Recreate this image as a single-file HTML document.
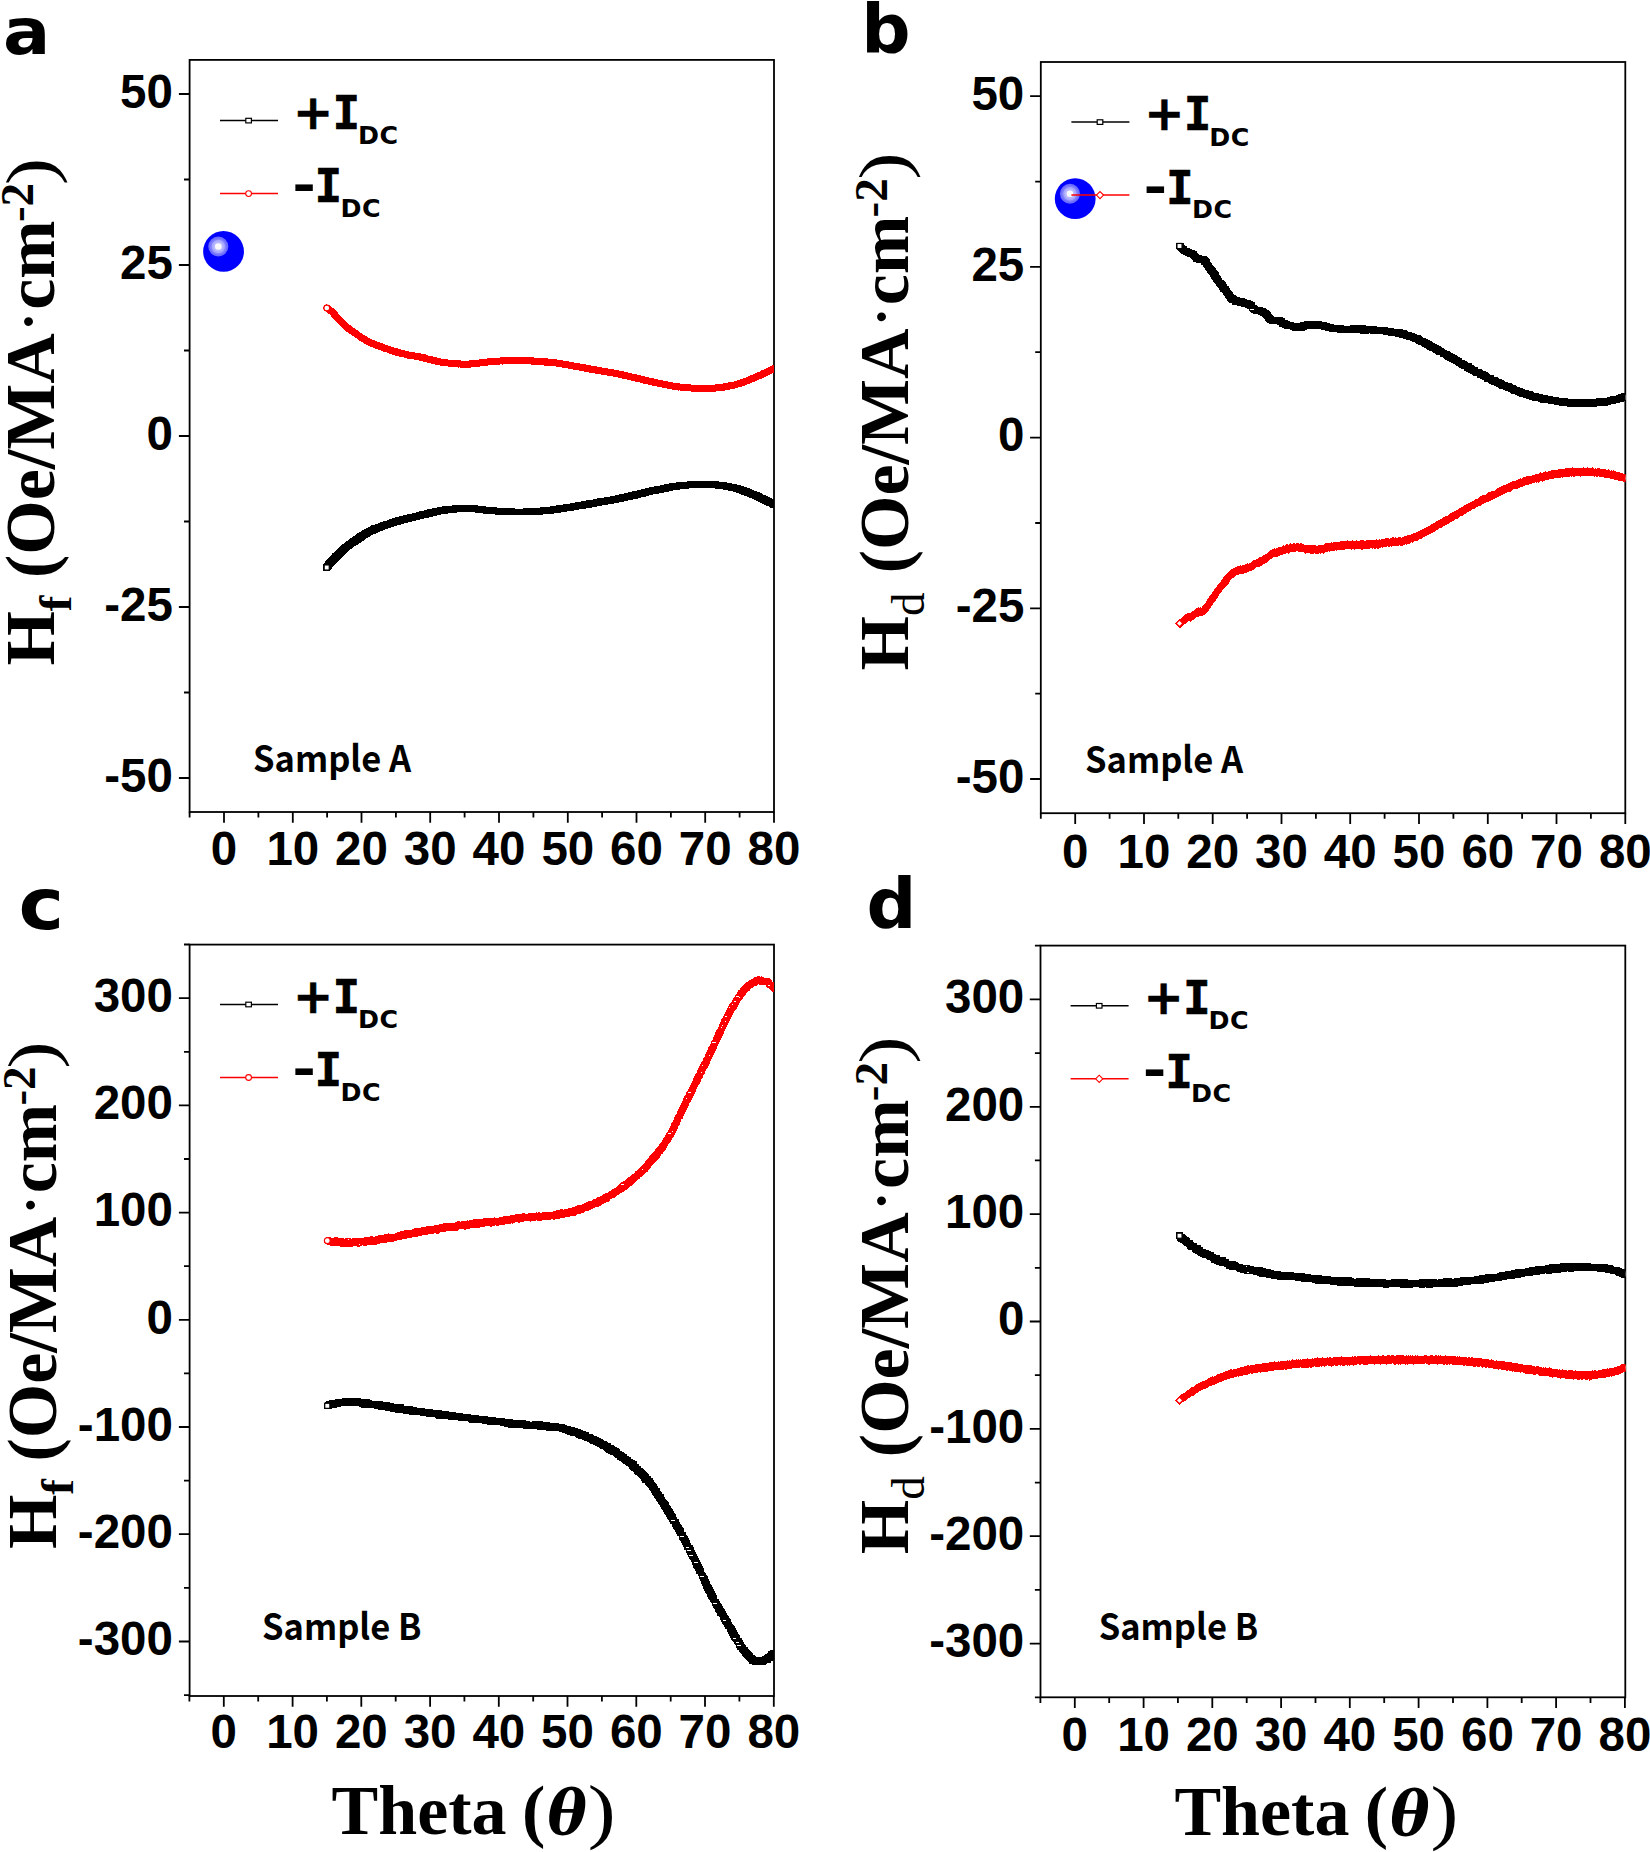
<!DOCTYPE html>
<html lang="en"><head><meta charset="utf-8"><title>Figure: H_f and H_d vs Theta</title>
<style>
html,body{margin:0;padding:0;background:#fff}
svg{display:block}
.tk text,.tk{font-family:"Liberation Sans",sans-serif;font-weight:700;font-size:47.5px;fill:#000}
.pl{font-family:"DejaVu Sans","Liberation Sans",sans-serif;font-weight:700;fill:#000}
.sm{font-family:"Noto Sans CJK SC","DejaVu Sans","Liberation Sans",sans-serif;font-weight:700;font-size:36px;fill:#000}
.lg{font-family:"DejaVu Sans","Liberation Sans",sans-serif;font-weight:700;font-size:46px;fill:#000}
.lgp{font-size:48px;stroke:#000;stroke-width:.6px}
.lgi{font-family:"DejaVu Sans Mono","Liberation Mono",monospace;font-weight:700;font-size:46px;fill:#000;stroke:#000;stroke-width:.7px}
.lgs{font-family:"DejaVu Sans","Liberation Sans",sans-serif;font-weight:700;font-size:25.3px;letter-spacing:.5px;fill:#000}
.yl,.xl{font-family:"Liberation Serif",serif;font-weight:700;font-size:70px;fill:#000}
.sub{font-size:47px}
.sup{font-size:47px}
.dot{font-size:54px}
.yp{font-family:"Liberation Serif",serif;font-weight:400;font-size:67px;fill:#000}
.xp{font-family:"Liberation Serif",serif;font-weight:400;font-size:71px;fill:#000}
.th{font-family:"DejaVu Serif","Liberation Serif",serif;font-weight:700;font-style:italic;font-size:62.2px;fill:#000}
</style></head><body>
<svg width="1650" height="1852" viewBox="0 0 1650 1852">
<rect width="1650" height="1852" fill="#fff"/>
<defs>
<clipPath id="cpa"><rect x="189.6" y="59.9" width="584.4" height="752.1"/></clipPath>
<clipPath id="cpb"><rect x="1040.8" y="62.0" width="584.5" height="751.2"/></clipPath>
<clipPath id="cpc"><rect x="189.6" y="944.6" width="584.4" height="751.4"/></clipPath>
<clipPath id="cpd"><rect x="1040.5" y="945.6" width="584.8" height="751.7"/></clipPath>
<marker id="mS" markerUnits="userSpaceOnUse" markerWidth="10" markerHeight="10" refX="5" refY="5" overflow="visible"><rect x="2.45" y="2.45" width="5.1" height="5.1" fill="#fff" stroke="#000" stroke-width="1.5" shape-rendering="crispEdges"/></marker>
<marker id="mC" markerUnits="userSpaceOnUse" markerWidth="10" markerHeight="10" refX="5" refY="5" overflow="visible"><circle cx="5" cy="5" r="2.85" fill="#fff" stroke="#f00" stroke-width="1.4" shape-rendering="crispEdges"/></marker>
<marker id="mD" markerUnits="userSpaceOnUse" markerWidth="10" markerHeight="10" refX="5" refY="5" overflow="visible"><path d="M1.75 5L5 1.75L8.25 5L5 8.25z" fill="#fff" stroke="#f00" stroke-width="1.5" shape-rendering="crispEdges"/></marker>
</defs>
<text class="pl" font-size="64.6" transform="translate(3.0 54.4) scale(1.086 1)">a</text>
<text class="pl" font-size="66.9" transform="translate(861.2 52.9) scale(1.030 1)">b</text>
<text class="pl" font-size="71.2" transform="translate(18.5 928.7) scale(1.080 1)">c</text>
<text class="pl" font-size="69.3" transform="translate(866.6 928.4) scale(1.005 1)">d</text>
<g id="axes-a">
<rect x="189.6" y="59.9" width="584.4" height="752.1" fill="none" stroke="#000" stroke-width="1.80"/>
<path d="M189.6 812.0v5.6M224.0 812.0v10.7M258.4 812.0v5.6M292.8 812.0v10.7M327.1 812.0v5.6M361.5 812.0v10.7M395.9 812.0v5.6M430.2 812.0v10.7M464.6 812.0v5.6M499.0 812.0v10.7M533.4 812.0v5.6M567.8 812.0v10.7M602.1 812.0v5.6M636.5 812.0v10.7M670.9 812.0v5.6M705.2 812.0v10.7M739.6 812.0v5.6M774.0 812.0v10.7M189.6 94.0h-10.7M189.6 265.0h-10.7M189.6 436.0h-10.7M189.6 607.0h-10.7M189.6 778.0h-10.7M189.6 179.5h-5.6M189.6 350.5h-5.6M189.6 521.5h-5.6M189.6 692.5h-5.6" stroke="#000" stroke-width="1.80" fill="none"/>
<g class="tk" text-anchor="middle">
<text x="224.0" y="865.3">0</text>
<text x="292.8" y="865.3">10</text>
<text x="361.5" y="865.3">20</text>
<text x="430.2" y="865.3">30</text>
<text x="499.0" y="865.3">40</text>
<text x="567.8" y="865.3">50</text>
<text x="636.5" y="865.3">60</text>
<text x="705.2" y="865.3">70</text>
<text x="774.0" y="865.3">80</text>
</g>
<g class="tk" text-anchor="end">
<text x="172.9" y="107.8">50</text>
<text x="172.9" y="278.8">25</text>
<text x="172.9" y="449.8">0</text>
<text x="172.9" y="620.8">-25</text>
<text x="172.9" y="791.8">-50</text>
</g>
</g>
<g id="axes-b">
<rect x="1040.8" y="62.0" width="584.5" height="751.2" fill="none" stroke="#000" stroke-width="1.80"/>
<path d="M1040.8 813.2v5.6M1075.2 813.2v10.7M1109.6 813.2v5.6M1144.0 813.2v10.7M1178.3 813.2v5.6M1212.7 813.2v10.7M1247.1 813.2v5.6M1281.5 813.2v10.7M1315.9 813.2v5.6M1350.2 813.2v10.7M1384.6 813.2v5.6M1419.0 813.2v10.7M1453.4 813.2v5.6M1487.8 813.2v10.7M1522.1 813.2v5.6M1556.5 813.2v10.7M1590.9 813.2v5.6M1625.3 813.2v10.7M1040.8 96.2h-10.7M1040.8 266.9h-10.7M1040.8 437.6h-10.7M1040.8 608.3h-10.7M1040.8 779.0h-10.7M1040.8 181.6h-5.6M1040.8 352.2h-5.6M1040.8 523.0h-5.6M1040.8 693.7h-5.6" stroke="#000" stroke-width="1.80" fill="none"/>
<g class="tk" text-anchor="middle">
<text x="1075.2" y="867.7">0</text>
<text x="1144.0" y="867.7">10</text>
<text x="1212.7" y="867.7">20</text>
<text x="1281.5" y="867.7">30</text>
<text x="1350.2" y="867.7">40</text>
<text x="1419.0" y="867.7">50</text>
<text x="1487.8" y="867.7">60</text>
<text x="1556.5" y="867.7">70</text>
<text x="1625.3" y="867.7">80</text>
</g>
<g class="tk" text-anchor="end">
<text x="1024.3" y="110.0">50</text>
<text x="1024.3" y="280.7">25</text>
<text x="1024.3" y="451.4">0</text>
<text x="1024.3" y="622.1">-25</text>
<text x="1024.3" y="792.8">-50</text>
</g>
</g>
<g id="axes-c">
<rect x="189.6" y="944.6" width="584.4" height="751.4" fill="none" stroke="#000" stroke-width="1.80"/>
<path d="M189.4 1696.0v5.6M223.8 1696.0v10.7M258.2 1696.0v5.6M292.6 1696.0v10.7M326.9 1696.0v5.6M361.3 1696.0v10.7M395.7 1696.0v5.6M430.1 1696.0v10.7M464.4 1696.0v5.6M498.8 1696.0v10.7M533.2 1696.0v5.6M567.5 1696.0v10.7M601.9 1696.0v5.6M636.3 1696.0v10.7M670.7 1696.0v5.6M705.0 1696.0v10.7M739.4 1696.0v5.6M773.8 1696.0v10.7M189.6 998.1h-10.7M189.6 1105.4h-10.7M189.6 1212.6h-10.7M189.6 1319.8h-10.7M189.6 1427.0h-10.7M189.6 1534.2h-10.7M189.6 1641.5h-10.7M189.6 944.5h-5.6M189.6 1051.8h-5.6M189.6 1159.0h-5.6M189.6 1266.2h-5.6M189.6 1373.4h-5.6M189.6 1480.6h-5.6M189.6 1587.8h-5.6M189.6 1695.1h-5.6" stroke="#000" stroke-width="1.80" fill="none"/>
<g class="tk" text-anchor="middle">
<text x="223.8" y="1748.3">0</text>
<text x="292.6" y="1748.3">10</text>
<text x="361.3" y="1748.3">20</text>
<text x="430.1" y="1748.3">30</text>
<text x="498.8" y="1748.3">40</text>
<text x="567.5" y="1748.3">50</text>
<text x="636.3" y="1748.3">60</text>
<text x="705.0" y="1748.3">70</text>
<text x="773.8" y="1748.3">80</text>
</g>
<g class="tk" text-anchor="end">
<text x="172.9" y="1011.9">300</text>
<text x="172.9" y="1119.2">200</text>
<text x="172.9" y="1226.4">100</text>
<text x="172.9" y="1333.6">0</text>
<text x="172.9" y="1440.8">-100</text>
<text x="172.9" y="1548.0">-200</text>
<text x="172.9" y="1655.3">-300</text>
</g>
</g>
<g id="axes-d">
<rect x="1040.5" y="945.6" width="584.8" height="751.7" fill="none" stroke="#000" stroke-width="1.80"/>
<path d="M1040.4 1697.3v5.6M1074.8 1697.3v10.7M1109.2 1697.3v5.6M1143.6 1697.3v10.7M1177.9 1697.3v5.6M1212.3 1697.3v10.7M1246.7 1697.3v5.6M1281.1 1697.3v10.7M1315.5 1697.3v5.6M1349.8 1697.3v10.7M1384.2 1697.3v5.6M1418.6 1697.3v10.7M1453.0 1697.3v5.6M1487.4 1697.3v10.7M1521.7 1697.3v5.6M1556.1 1697.3v10.7M1590.5 1697.3v5.6M1624.9 1697.3v10.7M1040.5 999.4h-10.7M1040.5 1106.8h-10.7M1040.5 1214.1h-10.7M1040.5 1321.5h-10.7M1040.5 1428.9h-10.7M1040.5 1536.2h-10.7M1040.5 1643.6h-10.7M1040.5 945.7h-5.6M1040.5 1053.1h-5.6M1040.5 1160.4h-5.6M1040.5 1267.8h-5.6M1040.5 1375.2h-5.6M1040.5 1482.6h-5.6M1040.5 1589.9h-5.6M1040.5 1697.3h-5.6" stroke="#000" stroke-width="1.80" fill="none"/>
<g class="tk" text-anchor="middle">
<text x="1074.8" y="1750.7">0</text>
<text x="1143.6" y="1750.7">10</text>
<text x="1212.3" y="1750.7">20</text>
<text x="1281.1" y="1750.7">30</text>
<text x="1349.8" y="1750.7">40</text>
<text x="1418.6" y="1750.7">50</text>
<text x="1487.4" y="1750.7">60</text>
<text x="1556.1" y="1750.7">70</text>
<text x="1624.9" y="1750.7">80</text>
</g>
<g class="tk" text-anchor="end">
<text x="1024.3" y="1013.2">300</text>
<text x="1024.3" y="1120.6">200</text>
<text x="1024.3" y="1227.9">100</text>
<text x="1024.3" y="1335.3">0</text>
<text x="1024.3" y="1442.7">-100</text>
<text x="1024.3" y="1550.0">-200</text>
<text x="1024.3" y="1657.4">-300</text>
</g>
</g>
<g clip-path="url(#cpa)"><path d="M774.1,368.2 774.0,368.3 773.4,368.7 772.7,368.9 772.1,369.3 771.5,369.5 770.9,369.9 770.2,370.2 769.6,370.4 769.0,370.8 768.4,371.2 767.7,371.5 767.1,371.9 766.5,372.1 765.9,372.3 765.2,372.7 764.6,372.9 764.0,373.3 763.3,373.6 762.7,373.8 762.1,374.2 761.5,374.6 760.8,374.9 760.2,375.3 759.5,375.5 758.9,375.6 758.3,375.8 757.6,376.3 757.0,376.7 756.4,376.8 755.7,376.9 755.1,377.3 754.4,377.6 753.8,378.0 753.1,378.2 752.5,378.4 751.8,378.7 751.2,379.0 750.5,379.2 749.9,379.6 749.3,379.8 748.6,380.1 748.0,380.2 747.3,380.6 746.7,380.9 746.0,381.1 745.3,381.4 744.7,381.5 744.0,381.8 743.4,382.0 742.7,382.4 742.1,382.7 741.4,382.8 740.7,383.0 740.1,383.2 739.4,383.4 738.7,383.8 738.1,383.9 737.4,384.1 736.7,384.3 736.0,384.4 735.4,384.8 734.7,385.0 734.0,385.0 733.3,385.1 732.7,385.3 732.0,385.4 731.3,385.5 730.6,385.7 729.9,385.8 729.2,386.1 728.5,386.1 727.9,386.2 727.2,386.4 726.5,386.6 725.8,386.8 725.1,386.7 724.4,386.9 723.7,387.0 723.0,387.3 722.3,387.1 721.6,387.3 720.9,387.3 720.2,387.4 719.6,387.6 718.9,387.6 718.2,387.8 717.5,387.7 716.8,387.9 716.1,387.9 715.4,388.1 714.7,388.1 714.0,388.1 713.3,388.2 712.6,388.3 711.9,388.3 711.2,388.4 710.5,388.6 709.8,388.4 709.1,388.5 708.4,388.5 707.7,388.4 707.0,388.5 706.3,388.6 705.6,388.6 704.9,388.5 704.2,388.6 703.5,388.7 702.8,388.5 702.1,388.7 701.4,388.5 700.7,388.5 700.0,388.6 699.3,388.3 698.6,388.5 697.9,388.5 697.2,388.4 696.5,388.3 695.8,388.3 695.1,388.3 694.4,388.4 693.7,388.2 693.0,388.1 692.3,388.1 691.6,388.1 690.9,388.0 690.2,388.0 689.5,387.8 688.8,387.8 688.1,387.9 687.4,387.7 686.7,387.7 686.0,387.7 685.3,387.6 684.6,387.6 683.9,387.5 683.2,387.4 682.5,387.5 681.8,387.2 681.2,387.1 680.5,387.1 679.8,387.0 679.1,386.9 678.4,387.0 677.7,386.7 677.0,386.8 676.3,386.6 675.6,386.4 674.9,386.6 674.2,386.3 673.5,386.2 672.8,386.0 672.1,385.9 671.4,385.9 670.8,385.8 670.1,385.6 669.4,385.3 668.7,385.2 668.0,385.2 667.3,385.0 666.6,384.8 665.9,384.7 665.3,384.6 664.6,384.6 663.9,384.3 663.2,384.1 662.5,384.0 661.8,383.9 661.2,383.7 660.5,383.6 659.8,383.7 659.1,383.4 658.4,383.1 657.7,383.0 657.0,382.9 656.4,382.8 655.7,382.7 655.0,382.4 654.3,382.3 653.6,382.2 652.9,381.9 652.3,381.9 651.6,381.6 650.9,381.5 650.2,381.3 649.5,381.4 648.8,381.0 648.2,381.0 647.5,380.6 646.8,380.6 646.1,380.6 645.4,380.3 644.7,380.1 644.1,380.1 643.4,379.8 642.7,379.6 642.0,379.4 641.3,379.3 640.7,379.0 640.0,379.0 639.3,378.8 638.6,378.8 637.9,378.6 637.2,378.4 636.6,378.3 635.9,378.1 635.2,377.8 634.5,377.7 633.8,377.7 633.2,377.5 632.5,377.1 631.8,377.1 631.1,376.9 630.4,376.8 629.8,376.6 629.1,376.4 628.4,376.4 627.7,376.1 627.0,376.0 626.4,375.7 625.7,375.7 625.0,375.7 624.3,375.3 623.6,375.2 622.9,374.9 622.3,375.0 621.6,374.8 620.9,374.6 620.2,374.4 619.5,374.3 618.8,374.1 618.1,373.9 617.5,373.9 616.8,373.8 616.1,373.7 615.4,373.5 614.7,373.4 614.0,373.1 613.3,373.1 612.6,372.9 611.9,372.9 611.3,372.8 610.6,372.5 609.9,372.4 609.2,372.4 608.5,372.3 607.8,372.2 607.1,371.9 606.4,371.9 605.7,371.8 605.0,371.6 604.4,371.6 603.7,371.5 603.0,371.3 602.3,371.3 601.6,371.1 600.9,370.9 600.2,370.9 599.5,370.9 598.8,370.6 598.2,370.6 597.5,370.3 596.8,370.2 596.1,370.2 595.4,369.8 594.7,369.8 594.0,369.7 593.3,369.6 592.6,369.4 592.0,369.4 591.3,369.2 590.6,369.0 589.9,369.1 589.2,368.9 588.5,368.7 587.8,368.6 587.1,368.5 586.4,368.3 585.8,368.2 585.1,368.0 584.4,368.0 583.7,367.9 583.0,367.8 582.3,367.7 581.6,367.6 580.9,367.5 580.2,367.3 579.6,367.1 578.9,366.9 578.2,366.8 577.5,366.8 576.8,366.6 576.1,366.5 575.4,366.4 574.7,366.2 574.0,366.1 573.4,366.1 572.7,365.9 572.0,365.7 571.3,365.5 570.6,365.3 569.9,365.4 569.2,365.3 568.5,365.1 567.9,365.0 567.2,364.8 566.5,364.6 565.8,364.7 565.1,364.4 564.4,364.2 563.7,364.2 563.0,364.1 562.3,363.9 561.6,363.8 561.0,363.8 560.3,363.5 559.6,363.5 558.9,363.5 558.2,363.3 557.5,363.2 556.8,363.1 556.1,363.0 555.4,362.9 554.7,362.8 554.0,362.8 553.3,362.8 552.6,362.8 551.9,362.6 551.2,362.3 550.5,362.5 549.8,362.4 549.2,362.3 548.5,362.1 547.8,362.2 547.1,362.0 546.4,362.0 545.7,362.1 545.0,361.9 544.3,362.0 543.6,361.8 542.9,361.7 542.2,361.7 541.5,361.6 540.8,361.7 540.1,361.4 539.4,361.5 538.7,361.4 538.0,361.2 537.3,361.4 536.6,361.3 535.9,361.3 535.2,361.1 534.5,361.1 533.8,361.1 533.1,361.0 532.4,361.0 531.7,361.0 531.0,360.9 530.3,360.8 529.6,360.7 528.9,360.8 528.2,360.8 527.5,360.7 526.8,360.8 526.1,360.9 525.4,360.6 524.7,360.6 524.0,360.5 523.3,360.6 522.6,360.8 521.9,360.8 521.2,360.6 520.5,360.5 519.8,360.5 519.1,360.4 518.4,360.5 517.7,360.5 517.0,360.5 516.3,360.5 515.6,360.6 514.9,360.4 514.2,360.7 513.5,360.6 512.8,360.5 512.1,360.4 511.4,360.5 510.7,360.7 510.0,360.7 509.3,360.6 508.6,360.8 507.9,360.6 507.2,360.7 506.5,360.8 505.8,360.6 505.1,360.7 504.4,360.7 503.7,360.7 503.0,360.8 502.3,361.0 501.6,360.9 500.9,360.9 500.2,361.0 499.5,361.1 498.8,361.2 498.1,361.2 497.4,361.2 496.7,361.2 496.0,361.3 495.3,361.2 494.6,361.5 493.9,361.4 493.2,361.4 492.5,361.5 491.8,361.6 491.1,361.7 490.4,361.8 489.8,361.8 489.1,361.9 488.4,361.9 487.7,362.0 487.0,362.1 486.3,362.2 485.6,362.3 484.9,362.2 484.2,362.2 483.5,362.4 482.8,362.5 482.1,362.6 481.4,362.6 480.7,362.7 480.0,362.8 479.3,363.0 478.6,363.1 477.9,363.0 477.2,363.1 476.5,363.2 475.8,363.4 475.1,363.4 474.4,363.5 473.7,363.5 473.0,363.7 472.4,363.7 471.7,363.6 471.0,363.8 470.3,363.8 469.6,364.1 468.9,364.1 468.2,364.1 467.5,364.1 466.8,364.1 466.1,364.2 465.4,364.3 464.7,364.1 464.0,364.3 463.3,364.4 462.6,364.3 461.9,364.3 461.2,364.1 460.5,364.1 459.8,363.9 459.1,363.9 458.4,364.0 457.7,363.9 457.0,363.8 456.3,363.8 455.6,363.6 454.9,363.6 454.2,363.6 453.5,363.4 452.8,363.3 452.1,363.3 451.4,363.3 450.7,363.2 450.0,363.1 449.3,363.1 448.6,363.1 447.9,363.0 447.2,363.0 446.5,362.9 445.8,362.6 445.2,362.5 444.5,362.5 443.8,362.4 443.1,362.3 442.4,362.3 441.7,362.3 441.0,362.1 440.3,362.0 439.6,361.8 438.9,361.6 438.2,361.5 437.5,361.4 436.9,361.2 436.2,361.2 435.5,361.1 434.8,360.7 434.1,360.6 433.5,360.6 432.8,360.4 432.1,360.1 431.4,359.8 430.7,359.9 430.1,359.5 429.4,359.4 428.7,359.1 428.0,359.1 427.4,358.9 426.7,358.8 426.0,358.7 425.3,358.2 424.7,358.2 424.0,357.8 423.3,357.8 422.6,357.7 422.0,357.3 421.3,357.2 420.6,357.1 419.9,357.1 419.2,356.8 418.5,356.7 417.9,356.4 417.2,356.4 416.5,356.3 415.8,356.3 415.1,356.2 414.4,355.9 413.7,355.9 413.0,355.8 412.3,355.9 411.6,355.8 410.9,355.6 410.2,355.4 409.5,355.3 408.9,355.3 408.2,355.0 407.5,354.9 406.8,354.7 406.1,354.5 405.5,354.3 404.8,354.0 404.1,354.0 403.4,353.9 402.7,353.8 402.1,353.6 401.4,353.3 400.7,353.1 400.0,353.1 399.4,352.8 398.7,352.7 398.0,352.4 397.3,352.2 396.7,352.2 396.0,351.8 395.3,351.6 394.7,351.3 394.0,351.3 393.3,351.2 392.7,350.9 392.0,350.4 391.3,350.3 390.7,350.2 390.0,349.9 389.3,349.6 388.7,349.6 388.0,349.3 387.3,349.0 386.7,348.7 386.0,348.4 385.4,348.3 384.7,348.2 384.0,347.9 383.4,347.6 382.7,347.5 382.1,347.1 381.4,346.9 380.8,346.7 380.1,346.4 379.4,346.2 378.8,345.9 378.1,345.7 377.4,345.6 376.8,345.3 376.1,345.2 375.5,345.0 374.8,344.4 374.2,344.3 373.5,344.1 372.9,343.7 372.2,343.6 371.6,343.1 371.0,342.9 370.3,342.7 369.7,342.3 369.1,342.0 368.4,341.7 367.8,341.4 367.2,341.1 366.6,340.8 366.0,340.5 365.3,340.1 364.7,339.7 364.1,339.3 363.5,338.9 362.9,338.6 362.3,338.3 361.7,337.9 361.2,337.5 360.6,337.1 360.0,336.7 359.4,336.4 358.9,335.9 358.3,335.5 357.7,335.0 357.2,334.6 356.6,334.3 356.0,333.9 355.4,333.4 354.9,333.1 354.3,332.6 353.7,332.4 353.1,331.9 352.5,331.6 351.9,331.1 351.3,330.9 350.8,330.3 350.2,330.0 349.7,329.4 349.1,329.1 348.5,328.7 348.0,328.2 347.4,327.8 346.9,327.3 346.4,326.8 345.8,326.5 345.3,326.0 344.8,325.7 344.3,325.1 343.7,324.5 343.2,324.1 342.7,323.5 342.2,323.1 341.7,322.5 341.3,322.2 340.8,321.5 340.3,321.1 339.8,320.7 339.3,320.2 338.8,319.6 338.4,319.1 337.9,318.5 337.4,318.1 337.0,317.5 336.5,316.9 336.1,316.4 335.6,315.9 335.2,315.6 334.7,314.8 334.2,314.3 333.8,313.9 333.3,313.4 332.8,312.8 332.4,312.3 331.8,311.7 331.3,311.2 330.8,310.9 330.2,310.5 329.7,310.0 329.1,309.5 328.5,309.2 328.0,308.9 327.4,308.4 326.8,308.0" fill="none" stroke="none" marker-start="url(#mC)" marker-mid="url(#mC)" marker-end="url(#mC)"/></g>
<circle cx="326.8" cy="308.0" r="2.9" fill="#fff" stroke="#f00" stroke-width="1.15"/>
<g clip-path="url(#cpa)"><path d="M774.1,504.4 773.9,504.6 773.3,504.2 772.6,503.7 772.0,503.6 771.4,503.0 770.8,502.7 770.1,502.6 769.5,502.4 768.9,502.0 768.3,501.7 767.6,501.4 767.0,501.1 766.4,500.7 765.8,500.5 765.1,500.1 764.5,499.8 763.9,499.5 763.2,499.3 762.6,498.7 762.0,498.5 761.4,498.2 760.7,498.1 760.1,497.6 759.5,497.4 758.8,497.1 758.2,496.7 757.5,496.5 756.9,496.3 756.3,495.7 755.6,495.7 755.0,495.3 754.3,495.0 753.7,494.8 753.0,494.5 752.4,494.3 751.7,494.0 751.1,493.7 750.5,493.5 749.8,493.1 749.2,493.0 748.5,492.7 747.9,492.5 747.2,492.3 746.6,491.8 745.9,491.6 745.2,491.3 744.6,491.3 743.9,491.0 743.3,490.7 742.6,490.5 742.0,490.2 741.3,490.1 740.6,489.7 740.0,489.6 739.3,489.3 738.6,489.1 738.0,488.9 737.3,488.7 736.6,488.6 735.9,488.3 735.3,488.1 734.6,487.9 733.9,487.7 733.2,487.7 732.6,487.6 731.9,487.3 731.2,487.2 730.5,486.9 729.8,486.9 729.1,486.8 728.4,486.6 727.8,486.6 727.1,486.3 726.4,486.2 725.7,486.1 725.0,486.0 724.3,485.9 723.6,485.7 722.9,485.8 722.2,485.8 721.5,485.6 720.8,485.4 720.1,485.2 719.5,485.1 718.8,485.1 718.1,485.2 717.4,484.9 716.7,485.0 716.0,484.9 715.3,484.8 714.6,484.7 713.9,484.6 713.2,484.5 712.5,484.6 711.8,484.5 711.1,484.3 710.4,484.3 709.7,484.3 709.0,484.4 708.3,484.1 707.6,484.3 706.9,484.2 706.2,484.2 705.5,484.2 704.8,484.3 704.1,484.3 703.4,484.1 702.7,484.3 702.0,484.3 701.3,484.3 700.6,484.3 699.9,484.2 699.2,484.3 698.5,484.3 697.8,484.6 697.1,484.5 696.4,484.4 695.7,484.6 695.0,484.4 694.3,484.6 693.6,484.7 692.9,484.5 692.2,484.7 691.5,484.8 690.8,484.8 690.1,484.8 689.4,484.9 688.7,485.0 688.0,485.0 687.3,484.9 686.6,485.0 685.9,485.3 685.2,485.1 684.5,485.3 683.8,485.4 683.1,485.4 682.4,485.5 681.7,485.5 681.0,485.7 680.4,485.7 679.7,485.6 679.0,485.8 678.3,485.9 677.6,486.1 676.9,486.1 676.2,486.3 675.5,486.4 674.8,486.4 674.1,486.5 673.4,486.7 672.7,486.8 672.0,486.8 671.3,487.0 670.7,487.1 670.0,487.3 669.3,487.2 668.6,487.5 667.9,487.6 667.2,487.7 666.5,487.9 665.8,488.0 665.2,488.3 664.5,488.4 663.8,488.3 663.1,488.8 662.4,488.9 661.7,489.0 661.0,489.0 660.4,489.3 659.7,489.3 659.0,489.4 658.3,489.6 657.6,489.8 656.9,489.9 656.3,490.1 655.6,490.2 654.9,490.3 654.2,490.4 653.5,490.6 652.8,490.7 652.1,490.9 651.5,491.1 650.8,491.1 650.1,491.3 649.4,491.6 648.7,491.8 648.1,491.9 647.4,491.9 646.7,492.0 646.0,492.3 645.3,492.6 644.6,492.7 644.0,492.9 643.3,492.9 642.6,493.2 641.9,493.3 641.2,493.4 640.6,493.5 639.9,493.9 639.2,493.9 638.5,494.0 637.8,494.3 637.1,494.6 636.5,494.6 635.8,494.7 635.1,494.9 634.4,495.2 633.7,495.2 633.1,495.3 632.4,495.4 631.7,495.8 631.0,495.9 630.3,496.0 629.7,496.2 629.0,496.4 628.3,496.6 627.6,496.7 626.9,496.8 626.3,496.9 625.6,497.1 624.9,497.5 624.2,497.5 623.5,497.6 622.8,497.8 622.2,498.0 621.5,498.0 620.8,498.3 620.1,498.4 619.4,498.6 618.7,498.5 618.0,498.6 617.4,499.0 616.7,499.0 616.0,499.3 615.3,499.4 614.6,499.5 613.9,499.6 613.2,499.7 612.5,499.9 611.8,500.0 611.2,500.0 610.5,500.2 609.8,500.3 609.1,500.3 608.4,500.6 607.7,500.6 607.0,500.8 606.3,501.0 605.6,500.9 604.9,501.0 604.3,501.4 603.6,501.4 602.9,501.5 602.2,501.5 601.5,501.7 600.8,501.8 600.1,501.9 599.4,502.0 598.7,502.2 598.1,502.4 597.4,502.5 596.7,502.5 596.0,502.7 595.3,502.9 594.6,502.9 593.9,503.1 593.2,503.3 592.5,503.3 591.9,503.6 591.2,503.6 590.5,503.7 589.8,503.8 589.1,503.9 588.4,504.2 587.7,504.2 587.0,504.5 586.3,504.5 585.7,504.7 585.0,504.8 584.3,504.8 583.6,505.1 582.9,505.2 582.2,505.2 581.5,505.3 580.8,505.4 580.1,505.6 579.5,505.7 578.8,505.9 578.1,505.8 577.4,506.1 576.7,506.1 576.0,506.2 575.3,506.4 574.6,506.6 573.9,506.6 573.2,506.8 572.5,506.9 571.9,507.0 571.2,507.1 570.5,507.2 569.8,507.2 569.1,507.4 568.4,507.6 567.7,507.7 567.0,507.7 566.3,507.8 565.6,507.9 564.9,508.0 564.3,508.1 563.6,508.2 562.9,508.3 562.2,508.6 561.5,508.7 560.8,508.8 560.1,508.8 559.4,508.8 558.7,509.1 558.0,509.2 557.3,509.3 556.6,509.4 555.9,509.3 555.2,509.5 554.6,509.6 553.9,509.6 553.2,509.7 552.5,509.9 551.8,509.9 551.1,509.9 550.4,510.3 549.7,510.3 549.0,510.2 548.3,510.2 547.6,510.5 546.9,510.5 546.2,510.4 545.5,510.6 544.8,510.7 544.1,510.7 543.4,510.7 542.7,511.0 542.0,510.9 541.3,511.0 540.6,511.1 539.9,511.1 539.2,511.3 538.5,511.1 537.8,511.1 537.1,511.4 536.4,511.4 535.7,511.4 535.0,511.4 534.4,511.4 533.7,511.6 533.0,511.6 532.3,511.6 531.6,511.9 530.9,511.7 530.2,511.7 529.5,511.8 528.8,511.8 528.1,512.0 527.4,511.7 526.7,511.7 526.0,512.0 525.3,512.0 524.6,511.9 523.9,512.0 523.2,512.0 522.5,512.0 521.8,512.0 521.1,512.0 520.4,512.0 519.7,512.0 519.0,511.9 518.3,511.9 517.6,512.0 516.9,511.9 516.2,511.9 515.5,512.1 514.8,511.9 514.1,512.0 513.4,511.9 512.7,512.0 512.0,511.8 511.3,511.8 510.6,511.9 509.9,511.7 509.2,511.7 508.5,511.7 507.8,511.7 507.1,511.6 506.4,511.6 505.7,511.7 505.0,511.6 504.3,511.5 503.6,511.5 502.9,511.4 502.2,511.5 501.5,511.5 500.8,511.3 500.1,511.4 499.4,511.3 498.7,511.2 498.0,511.2 497.3,511.0 496.6,511.1 495.9,511.0 495.2,510.9 494.5,510.9 493.8,510.8 493.1,510.8 492.4,510.8 491.7,510.6 491.0,510.4 490.3,510.6 489.6,510.4 488.9,510.3 488.2,510.4 487.5,510.1 486.8,510.0 486.1,510.2 485.4,510.1 484.7,510.1 484.0,509.9 483.3,509.9 482.6,509.8 482.0,509.7 481.3,509.5 480.6,509.5 479.9,509.5 479.2,509.3 478.5,509.3 477.8,509.1 477.1,509.1 476.4,509.0 475.7,508.9 475.0,508.9 474.3,508.7 473.6,508.8 472.9,508.8 472.2,508.7 471.5,508.5 470.8,508.6 470.1,508.6 469.4,508.3 468.7,508.3 468.0,508.4 467.3,508.2 466.6,508.3 465.9,508.2 465.2,508.2 464.5,508.3 463.8,508.2 463.1,508.2 462.4,508.2 461.7,508.3 461.0,508.3 460.3,508.3 459.6,508.5 458.9,508.5 458.2,508.6 457.5,508.7 456.8,508.8 456.2,508.7 455.5,508.8 454.8,508.9 454.1,509.0 453.4,509.2 452.7,509.2 452.0,509.1 451.3,509.4 450.6,509.5 449.9,509.5 449.2,509.4 448.5,509.5 447.8,509.8 447.1,509.8 446.4,509.9 445.7,509.8 445.0,510.2 444.3,510.2 443.6,510.3 442.9,510.4 442.2,510.5 441.6,510.5 440.9,510.7 440.2,510.8 439.5,511.0 438.8,511.0 438.1,511.1 437.4,511.2 436.7,511.4 436.1,511.5 435.4,511.7 434.7,512.0 434.0,512.0 433.3,512.2 432.6,512.2 432.0,512.5 431.3,512.8 430.6,512.8 429.9,513.0 429.2,513.2 428.6,513.4 427.9,513.5 427.2,513.8 426.5,513.9 425.8,514.0 425.2,514.2 424.5,514.5 423.8,514.6 423.1,514.7 422.5,514.8 421.8,515.0 421.1,515.4 420.4,515.5 419.7,515.5 419.1,515.8 418.4,515.9 417.7,516.0 417.0,516.1 416.3,516.3 415.7,516.7 415.0,516.6 414.3,517.0 413.6,517.1 412.9,517.3 412.3,517.3 411.6,517.5 410.9,517.8 410.2,517.8 409.5,517.9 408.8,518.2 408.2,518.3 407.5,518.4 406.8,518.6 406.1,518.9 405.5,518.9 404.8,519.4 404.1,519.3 403.4,519.5 402.7,519.8 402.1,519.7 401.4,520.1 400.7,520.2 400.0,520.6 399.4,520.8 398.7,520.7 398.0,521.0 397.3,521.3 396.7,521.4 396.0,521.5 395.3,521.8 394.6,522.0 394.0,522.1 393.3,522.6 392.6,522.6 392.0,523.0 391.3,523.0 390.7,523.3 390.0,523.6 389.3,523.9 388.7,524.0 388.0,524.3 387.4,524.4 386.7,524.8 386.0,524.9 385.4,525.1 384.7,525.4 384.0,525.7 383.4,525.8 382.7,526.1 382.1,526.3 381.4,526.5 380.7,526.9 380.1,527.0 379.4,527.3 378.8,527.5 378.1,527.7 377.4,527.9 376.8,528.2 376.1,528.4 375.5,528.7 374.8,528.8 374.2,529.2 373.6,529.6 372.9,529.8 372.3,530.3 371.7,530.5 371.0,530.8 370.4,530.9 369.8,531.4 369.2,531.6 368.6,532.1 368.0,532.4 367.3,532.8 366.7,533.2 366.1,533.5 365.5,533.7 364.9,534.2 364.3,534.6 363.7,535.0 363.1,535.3 362.5,535.7 362.0,536.1 361.4,536.5 360.8,536.7 360.2,537.2 359.6,537.6 359.1,538.0 358.5,538.3 357.9,538.8 357.3,539.3 356.8,539.5 356.2,540.0 355.6,540.4 355.0,540.7 354.5,541.2 353.9,541.6 353.3,541.8 352.7,542.3 352.2,542.8 351.6,543.1 351.0,543.6 350.5,544.1 349.9,544.2 349.3,544.8 348.7,545.2 348.2,545.6 347.6,545.9 347.0,546.3 346.5,546.9 345.9,547.2 345.3,547.8 344.8,548.2 344.3,548.5 343.7,549.0 343.2,549.4 342.7,549.9 342.2,550.5 341.7,551.0 341.2,551.5 340.7,552.0 340.2,552.4 339.7,553.1 339.3,553.4 338.8,553.9 338.3,554.5 337.8,555.1 337.3,555.4 336.8,555.9 336.2,556.4 335.7,556.8 335.2,557.4 334.7,557.9 334.2,558.3 333.7,558.9 333.2,559.4 332.7,559.9 332.3,560.4 331.8,560.9 331.4,561.3 330.9,561.8 330.5,562.4 330.1,563.0 329.6,563.7 329.2,564.1 328.8,564.7 328.4,565.3 328.0,565.8 327.5,566.4 327.1,567.0 326.7,567.5" fill="none" stroke="none" marker-start="url(#mS)" marker-mid="url(#mS)" marker-end="url(#mS)"/></g>
<rect x="324.15" y="564.95" width="5.1" height="5.1" fill="#fff" stroke="#000" stroke-width="1.2"/>
<g clip-path="url(#cpb)"><path d="M1625.3,397.5 1624.6,396.6 1623.9,397.7 1623.2,397.4 1622.6,397.5 1621.9,397.9 1621.2,397.6 1620.5,398.6 1619.8,398.8 1619.2,398.0 1618.5,399.0 1617.8,398.9 1617.1,398.9 1616.4,399.5 1615.8,399.2 1615.1,399.6 1614.4,399.6 1613.7,399.7 1613.0,399.5 1612.4,400.7 1611.7,400.2 1611.0,400.1 1610.3,400.5 1609.6,400.9 1608.9,401.0 1608.2,401.1 1607.6,401.5 1606.9,401.5 1606.2,401.5 1605.5,401.9 1604.8,402.3 1604.1,401.7 1603.4,401.4 1602.7,401.5 1602.0,402.0 1601.3,402.5 1600.6,402.5 1599.9,402.6 1599.3,401.7 1598.6,402.3 1597.9,402.4 1597.2,402.4 1596.5,402.7 1595.8,403.1 1595.1,402.2 1594.4,402.7 1593.7,403.2 1593.0,403.3 1592.3,403.5 1591.6,402.7 1590.9,402.8 1590.2,403.1 1589.5,403.6 1588.8,403.1 1588.1,403.6 1587.4,403.7 1586.7,403.5 1586.0,403.9 1585.3,403.5 1584.6,402.7 1583.9,403.4 1583.2,403.5 1582.5,403.5 1581.8,403.2 1581.1,403.5 1580.4,403.3 1579.7,403.6 1579.0,402.8 1578.3,403.2 1577.6,403.8 1576.9,402.8 1576.2,403.1 1575.5,403.1 1574.8,403.6 1574.1,402.7 1573.4,403.6 1572.7,402.3 1572.0,403.2 1571.3,402.5 1570.6,402.4 1569.9,403.5 1569.2,402.7 1568.5,402.5 1567.8,402.4 1567.1,402.9 1566.4,402.7 1565.7,403.1 1565.0,401.6 1564.3,402.3 1563.6,402.5 1562.9,401.9 1562.2,402.2 1561.5,401.1 1560.9,401.4 1560.2,401.2 1559.5,401.4 1558.8,401.4 1558.1,401.6 1557.4,402.1 1556.7,400.9 1556.0,400.8 1555.3,400.9 1554.6,400.5 1553.9,400.2 1553.2,400.9 1552.6,400.4 1551.9,400.0 1551.2,400.3 1550.5,399.9 1549.8,399.8 1549.1,399.7 1548.4,399.7 1547.7,399.4 1547.1,399.7 1546.4,399.4 1545.7,399.5 1545.0,399.2 1544.3,398.7 1543.6,399.5 1543.0,398.9 1542.3,398.7 1541.6,398.1 1540.9,398.5 1540.2,398.1 1539.6,397.6 1538.9,397.2 1538.2,397.1 1537.5,396.9 1536.8,397.3 1536.2,396.4 1535.5,397.2 1534.8,396.0 1534.1,396.4 1533.5,395.9 1532.8,396.3 1532.1,396.2 1531.4,395.9 1530.8,395.6 1530.1,394.6 1529.4,395.2 1528.7,395.0 1528.1,395.0 1527.4,394.6 1526.7,394.6 1526.1,394.5 1525.4,393.3 1524.7,393.2 1524.0,393.2 1523.4,393.5 1522.7,393.2 1522.1,392.3 1521.4,392.5 1520.7,392.2 1520.1,392.7 1519.4,391.8 1518.8,391.8 1518.1,391.3 1517.4,390.9 1516.8,390.5 1516.1,391.1 1515.5,390.5 1514.8,390.5 1514.2,390.4 1513.5,389.1 1512.9,390.1 1512.3,388.7 1511.6,388.8 1511.0,388.8 1510.3,388.1 1509.7,387.4 1509.0,387.3 1508.4,386.7 1507.8,387.2 1507.1,387.0 1506.5,387.0 1505.8,386.3 1505.2,385.9 1504.5,385.5 1503.9,386.0 1503.3,385.3 1502.6,385.2 1502.0,384.0 1501.4,384.2 1500.7,383.8 1500.1,383.8 1499.5,383.4 1498.8,382.5 1498.2,382.2 1497.6,382.7 1496.9,382.3 1496.3,382.0 1495.7,381.6 1495.0,381.6 1494.4,380.8 1493.8,381.2 1493.1,380.7 1492.5,380.3 1491.9,380.1 1491.2,379.2 1490.6,378.7 1490.0,378.9 1489.4,378.2 1488.7,378.3 1488.1,378.4 1487.5,378.2 1486.9,377.4 1486.2,377.1 1485.6,376.2 1485.0,375.8 1484.4,376.0 1483.7,375.9 1483.1,375.1 1482.5,374.6 1481.9,374.3 1481.3,374.3 1480.6,374.4 1480.0,373.9 1479.4,373.0 1478.8,372.6 1478.2,372.7 1477.5,372.4 1476.9,372.1 1476.3,372.3 1475.7,372.0 1475.1,370.7 1474.4,370.6 1473.8,370.5 1473.2,370.2 1472.6,370.0 1472.0,369.3 1471.4,369.6 1470.8,368.5 1470.1,369.0 1469.5,368.2 1468.9,367.8 1468.3,366.8 1467.7,367.3 1467.1,366.8 1466.5,366.1 1465.9,365.9 1465.2,365.5 1464.6,365.5 1464.0,364.9 1463.4,364.6 1462.8,364.5 1462.2,364.3 1461.6,363.0 1461.0,363.8 1460.4,362.9 1459.7,362.9 1459.1,361.6 1458.5,362.1 1457.9,361.8 1457.3,361.0 1456.7,360.4 1456.1,361.0 1455.5,359.9 1454.9,359.4 1454.3,359.8 1453.7,358.7 1453.1,358.8 1452.5,358.0 1451.9,358.6 1451.3,357.3 1450.6,357.4 1450.0,356.9 1449.4,356.0 1448.8,356.3 1448.2,356.3 1447.6,355.8 1447.0,354.7 1446.4,354.1 1445.8,354.2 1445.2,354.0 1444.6,353.9 1444.0,353.5 1443.4,353.2 1442.8,353.2 1442.1,351.9 1441.5,352.1 1440.9,351.5 1440.3,350.9 1439.7,351.3 1439.1,351.5 1438.5,350.3 1437.9,349.7 1437.3,349.8 1436.7,349.1 1436.1,349.2 1435.4,348.4 1434.8,348.1 1434.2,347.9 1433.6,347.1 1433.0,347.5 1432.4,347.3 1431.8,346.2 1431.2,346.5 1430.6,346.2 1429.9,345.4 1429.3,345.7 1428.7,344.8 1428.1,345.1 1427.5,344.5 1426.9,344.0 1426.3,343.7 1425.7,343.8 1425.0,343.2 1424.4,342.2 1423.8,342.4 1423.2,342.0 1422.6,341.3 1421.9,341.5 1421.3,341.5 1420.7,340.9 1420.0,340.6 1419.4,340.5 1418.8,339.6 1418.1,339.8 1417.5,338.7 1416.8,339.1 1416.2,338.7 1415.6,338.9 1414.9,338.0 1414.3,338.1 1413.6,337.5 1413.0,337.8 1412.3,337.0 1411.7,336.8 1411.0,336.3 1410.3,335.9 1409.7,336.6 1409.0,335.7 1408.3,335.7 1407.7,335.6 1407.0,335.0 1406.3,336.0 1405.7,334.9 1405.0,335.1 1404.3,334.4 1403.6,333.6 1403.0,333.4 1402.3,334.2 1401.6,333.6 1400.9,333.6 1400.2,332.8 1399.6,333.7 1398.9,334.0 1398.2,333.6 1397.5,332.6 1396.8,332.8 1396.1,332.6 1395.4,332.5 1394.7,333.0 1394.0,332.2 1393.3,332.5 1392.7,332.3 1392.0,332.5 1391.3,332.6 1390.6,331.4 1389.9,331.7 1389.2,332.0 1388.5,331.1 1387.8,331.2 1387.1,331.7 1386.4,331.3 1385.8,331.2 1385.1,330.4 1384.4,330.6 1383.7,330.8 1383.0,331.1 1382.3,330.7 1381.6,330.5 1380.9,330.2 1380.2,330.2 1379.5,330.5 1378.8,330.7 1378.1,330.1 1377.4,330.3 1376.7,330.7 1376.0,330.0 1375.3,330.5 1374.6,330.1 1373.9,329.8 1373.2,330.2 1372.5,329.7 1371.8,329.7 1371.1,329.5 1370.4,330.1 1369.7,330.0 1369.0,329.9 1368.3,329.1 1367.6,329.7 1366.9,330.1 1366.2,330.4 1365.5,329.7 1364.8,330.1 1364.1,329.2 1363.4,330.2 1362.7,328.8 1362.0,329.6 1361.3,329.3 1360.6,329.1 1359.9,329.7 1359.2,329.5 1358.5,329.3 1357.8,329.2 1357.1,328.6 1356.4,329.4 1355.7,329.4 1355.0,329.1 1354.3,329.5 1353.6,328.5 1352.9,329.5 1352.2,329.6 1351.5,329.3 1350.8,329.8 1350.1,329.0 1349.4,329.2 1348.7,329.4 1348.0,329.8 1347.3,329.4 1346.6,329.8 1345.9,329.1 1345.2,329.9 1344.5,329.4 1343.8,330.0 1343.1,330.1 1342.4,329.6 1341.7,329.3 1341.0,328.8 1340.3,329.2 1339.7,328.9 1339.0,329.0 1338.3,328.2 1337.6,328.5 1336.9,329.0 1336.2,328.8 1335.5,328.3 1334.8,328.8 1334.1,328.4 1333.4,328.7 1332.7,328.5 1332.0,328.8 1331.3,327.9 1330.6,327.8 1329.9,328.1 1329.2,327.4 1328.5,327.4 1327.9,327.8 1327.2,326.8 1326.6,326.6 1325.9,326.5 1325.3,326.8 1324.7,326.7 1324.0,325.3 1323.3,325.4 1322.7,326.1 1322.0,324.9 1321.3,325.0 1320.6,324.9 1319.9,325.1 1319.2,324.8 1318.5,325.3 1317.8,324.9 1317.1,325.0 1316.4,325.0 1315.7,324.2 1315.0,325.4 1314.3,325.3 1313.6,324.6 1312.9,325.8 1312.2,325.0 1311.5,324.5 1310.8,324.8 1310.1,324.4 1309.4,324.7 1308.7,324.6 1308.0,324.7 1307.3,324.8 1306.6,325.8 1305.9,325.5 1305.2,325.1 1304.6,326.1 1303.9,326.6 1303.3,325.8 1302.7,326.1 1302.0,327.3 1301.3,326.8 1300.6,327.3 1299.9,327.0 1299.2,326.7 1298.5,327.5 1297.8,327.9 1297.1,327.2 1296.4,327.3 1295.7,327.5 1295.0,327.1 1294.4,326.6 1293.7,326.7 1293.0,326.2 1292.3,326.1 1291.6,326.0 1290.9,326.0 1290.3,325.8 1289.6,325.2 1288.9,325.5 1288.3,325.6 1287.6,325.7 1287.0,324.8 1286.3,324.6 1285.7,325.1 1285.0,323.3 1284.4,323.5 1283.8,323.6 1283.2,323.2 1282.6,323.2 1282.0,322.1 1281.4,321.3 1280.7,322.1 1280.1,321.0 1279.4,320.1 1278.8,320.7 1278.1,320.4 1277.4,320.2 1276.7,320.6 1276.0,320.8 1275.3,320.7 1274.6,320.2 1273.9,320.5 1273.2,320.9 1272.5,320.7 1271.9,320.0 1271.2,320.0 1270.7,319.4 1270.2,319.6 1269.7,318.5 1269.2,318.6 1268.8,317.7 1268.3,317.2 1267.9,317.0 1267.4,315.8 1266.9,315.8 1266.5,314.1 1265.9,314.5 1265.4,313.1 1264.8,313.3 1264.3,313.0 1263.7,312.5 1263.1,312.7 1262.5,311.4 1261.9,311.8 1261.3,311.4 1260.7,310.9 1260.0,310.3 1259.4,310.3 1258.7,309.9 1258.0,310.0 1257.3,309.9 1256.6,310.6 1255.9,310.4 1255.2,309.7 1254.6,309.8 1254.0,309.2 1253.4,308.8 1252.9,308.0 1252.4,307.9 1251.9,307.8 1251.4,305.8 1250.9,306.0 1250.4,305.4 1249.9,304.6 1249.3,304.4 1248.7,304.6 1248.0,304.8 1247.4,303.1 1246.7,303.4 1246.0,303.6 1245.3,303.5 1244.7,303.2 1244.0,302.7 1243.3,302.6 1242.6,302.9 1242.0,302.7 1241.3,301.8 1240.6,301.7 1239.9,302.4 1239.3,301.1 1238.6,302.0 1237.9,301.4 1237.3,301.5 1236.6,300.8 1235.9,300.0 1235.3,301.3 1234.7,300.1 1234.1,299.3 1233.4,299.4 1232.9,298.3 1232.3,299.6 1231.7,298.4 1231.2,298.1 1230.7,297.4 1230.2,296.5 1229.8,296.5 1229.4,295.6 1229.0,295.0 1228.6,294.6 1228.2,293.4 1227.8,293.4 1227.4,293.1 1227.0,292.8 1226.7,291.4 1226.3,291.2 1225.9,290.6 1225.5,289.6 1225.0,288.9 1224.6,289.1 1224.2,288.0 1223.7,288.2 1223.3,287.8 1222.8,285.6 1222.4,285.4 1221.9,286.3 1221.5,284.4 1221.0,284.1 1220.6,283.5 1220.2,283.4 1219.8,283.1 1219.3,282.9 1218.9,281.8 1218.5,281.0 1218.1,280.9 1217.7,279.6 1217.4,280.1 1217.0,278.2 1216.6,278.4 1216.2,277.6 1215.8,276.8 1215.4,275.8 1215.1,276.3 1214.7,275.3 1214.3,274.4 1213.9,273.4 1213.5,273.5 1213.1,272.4 1212.7,271.4 1212.3,271.5 1211.9,271.2 1211.5,270.8 1211.1,270.0 1210.7,269.9 1210.3,269.0 1209.9,267.9 1209.5,267.9 1209.1,266.8 1208.6,266.2 1208.2,266.8 1207.8,265.2 1207.5,265.0 1207.1,264.6 1206.7,264.0 1206.3,262.8 1205.9,261.9 1205.5,261.3 1205.1,261.4 1204.6,260.7 1204.2,261.2 1203.6,259.6 1203.0,259.6 1202.4,259.0 1201.7,259.3 1201.0,259.1 1200.3,259.0 1199.6,259.4 1198.9,258.6 1198.3,258.8 1197.6,257.9 1197.0,258.7 1196.5,258.3 1195.9,257.8 1195.4,257.1 1195.0,256.0 1194.5,256.0 1194.0,255.1 1193.5,254.4 1193.0,254.3 1192.4,254.1 1191.9,252.9 1191.2,253.4 1190.6,252.8 1189.9,253.3 1189.2,252.6 1188.5,252.4 1187.8,251.9 1187.2,252.1 1186.5,251.7 1185.9,251.3 1185.3,251.1 1184.7,251.0 1184.2,250.2 1183.7,249.4 1183.1,248.8 1182.6,249.0 1182.1,249.1 1181.6,248.0 1181.1,247.1 1180.5,246.6 1180.0,247.0 1179.5,246.0" fill="none" stroke="none" marker-start="url(#mS)" marker-mid="url(#mS)" marker-end="url(#mS)"/></g>
<rect x="1176.95" y="243.45" width="5.1" height="5.1" fill="#fff" stroke="#000" stroke-width="1.2"/>
<g clip-path="url(#cpb)"><path d="M1625.3,478.4 1624.9,477.8 1624.2,478.1 1623.5,478.2 1622.9,477.4 1622.2,477.5 1621.5,477.0 1620.8,476.7 1620.1,476.8 1619.5,476.7 1618.8,476.2 1618.1,476.6 1617.4,475.8 1616.7,475.9 1616.1,475.9 1615.4,475.5 1614.7,475.5 1614.0,475.6 1613.3,474.4 1612.7,475.3 1612.0,474.5 1611.3,474.4 1610.6,475.0 1609.9,474.3 1609.2,474.3 1608.6,473.6 1607.9,474.0 1607.2,473.6 1606.5,473.9 1605.8,473.5 1605.1,473.8 1604.4,473.0 1603.7,473.3 1603.0,473.4 1602.3,473.2 1601.6,472.9 1600.9,472.9 1600.3,473.1 1599.6,472.0 1598.9,472.5 1598.2,472.1 1597.5,472.1 1596.8,473.0 1596.1,472.6 1595.4,472.2 1594.7,472.9 1594.0,472.7 1593.3,471.9 1592.6,471.5 1591.9,471.9 1591.2,471.6 1590.5,472.1 1589.8,472.3 1589.1,472.3 1588.4,472.2 1587.7,471.6 1587.0,471.6 1586.3,472.3 1585.6,472.0 1584.9,471.7 1584.2,471.6 1583.5,471.2 1582.8,471.6 1582.1,471.5 1581.4,471.8 1580.7,472.6 1580.0,471.6 1579.3,472.2 1578.6,472.0 1577.9,472.3 1577.2,472.1 1576.5,472.0 1575.8,471.7 1575.1,471.6 1574.4,472.4 1573.7,472.5 1573.0,472.2 1572.3,471.6 1571.6,472.4 1570.9,472.3 1570.2,472.0 1569.5,472.5 1568.8,472.6 1568.1,472.0 1567.4,472.6 1566.7,472.5 1566.0,472.6 1565.3,472.2 1564.6,473.2 1563.9,473.2 1563.2,472.8 1562.6,473.6 1561.9,472.8 1561.2,472.9 1560.5,473.9 1559.8,473.3 1559.1,473.8 1558.4,473.6 1557.7,474.0 1557.0,473.6 1556.3,474.3 1555.6,474.2 1554.9,474.1 1554.2,474.0 1553.5,474.7 1552.9,473.9 1552.2,474.9 1551.5,474.8 1550.8,475.4 1550.1,475.1 1549.4,475.0 1548.7,474.8 1548.0,475.9 1547.4,475.8 1546.7,475.7 1546.0,476.6 1545.3,475.3 1544.6,476.2 1543.9,477.2 1543.3,476.1 1542.6,477.4 1541.9,476.6 1541.2,477.0 1540.5,476.5 1539.9,477.5 1539.2,477.7 1538.5,478.2 1537.8,478.3 1537.1,477.6 1536.5,478.2 1535.8,477.6 1535.1,478.5 1534.4,478.9 1533.8,479.1 1533.1,479.1 1532.4,479.2 1531.7,479.8 1531.1,479.8 1530.4,480.0 1529.7,480.3 1529.0,480.5 1528.4,480.1 1527.7,481.1 1527.0,480.3 1526.3,480.8 1525.7,481.1 1525.0,481.3 1524.3,481.7 1523.7,481.3 1523.0,482.1 1522.3,482.4 1521.7,483.1 1521.0,482.6 1520.4,482.7 1519.7,483.1 1519.0,484.0 1518.4,483.4 1517.7,484.5 1517.1,483.8 1516.4,484.5 1515.8,485.0 1515.1,484.7 1514.5,485.0 1513.8,485.1 1513.2,485.5 1512.5,485.2 1511.9,486.2 1511.3,486.0 1510.6,486.6 1510.0,487.8 1509.3,487.5 1508.7,487.1 1508.0,488.3 1507.4,488.0 1506.8,488.4 1506.1,488.9 1505.5,489.1 1504.8,488.9 1504.2,490.2 1503.6,489.5 1502.9,490.3 1502.3,490.4 1501.6,490.6 1501.0,491.2 1500.4,491.5 1499.7,490.9 1499.1,491.4 1498.5,492.3 1497.8,492.9 1497.2,492.4 1496.6,493.1 1495.9,494.2 1495.3,494.1 1494.7,494.7 1494.0,494.4 1493.4,495.0 1492.8,495.7 1492.2,495.2 1491.5,495.8 1490.9,495.8 1490.3,496.5 1489.6,496.4 1489.0,496.3 1488.4,497.6 1487.8,498.0 1487.1,497.7 1486.5,498.0 1485.9,498.5 1485.3,498.9 1484.6,498.9 1484.0,499.4 1483.4,498.9 1482.8,500.1 1482.1,500.5 1481.5,501.0 1480.9,500.4 1480.3,501.5 1479.7,501.5 1479.0,502.6 1478.4,502.1 1477.8,502.6 1477.2,502.9 1476.6,502.9 1476.0,503.5 1475.3,503.6 1474.7,503.8 1474.1,504.8 1473.5,505.0 1472.9,505.1 1472.3,505.2 1471.6,505.9 1471.0,506.0 1470.4,506.7 1469.8,507.0 1469.2,507.4 1468.6,507.6 1468.0,507.9 1467.3,508.0 1466.7,508.6 1466.1,508.8 1465.5,509.4 1464.9,509.2 1464.3,509.4 1463.7,510.1 1463.1,510.7 1462.5,511.6 1461.8,511.7 1461.2,511.2 1460.6,512.0 1460.0,512.3 1459.4,512.9 1458.8,513.5 1458.2,513.3 1457.6,514.1 1457.0,515.0 1456.4,514.5 1455.8,515.1 1455.2,515.3 1454.6,515.4 1453.9,516.1 1453.3,516.6 1452.7,516.5 1452.1,517.1 1451.5,517.3 1450.9,518.1 1450.3,517.6 1449.7,519.0 1449.1,518.7 1448.5,519.3 1447.9,519.6 1447.3,520.0 1446.7,519.9 1446.1,520.7 1445.4,520.2 1444.8,520.8 1444.2,521.8 1443.6,521.6 1443.0,522.0 1442.4,522.6 1441.8,522.7 1441.2,523.6 1440.6,523.6 1440.0,524.1 1439.4,524.1 1438.8,524.4 1438.2,525.0 1437.5,526.0 1436.9,525.4 1436.3,526.0 1435.7,526.5 1435.1,526.4 1434.5,527.3 1433.9,526.9 1433.3,527.9 1432.7,528.1 1432.0,529.2 1431.4,528.3 1430.8,529.5 1430.2,529.2 1429.6,530.0 1429.0,530.2 1428.4,530.3 1427.8,531.0 1427.2,531.1 1426.5,531.6 1425.9,532.1 1425.3,531.7 1424.7,532.4 1424.1,533.3 1423.5,532.9 1422.8,532.9 1422.2,533.9 1421.6,534.7 1421.0,534.3 1420.3,534.7 1419.7,535.1 1419.1,535.3 1418.4,535.3 1417.8,536.5 1417.1,535.8 1416.5,536.5 1415.9,537.3 1415.2,537.5 1414.6,537.1 1413.9,537.2 1413.3,537.8 1412.6,538.5 1412.0,538.1 1411.3,538.2 1410.7,539.0 1410.0,539.2 1409.3,539.7 1408.7,539.5 1408.0,539.3 1407.3,539.6 1406.7,540.9 1406.0,540.2 1405.3,540.2 1404.6,540.2 1404.0,541.2 1403.3,540.7 1402.6,541.4 1401.9,541.8 1401.2,541.7 1400.5,541.7 1399.8,541.1 1399.1,541.5 1398.4,541.4 1397.7,542.3 1397.0,541.8 1396.3,542.0 1395.6,541.2 1394.9,541.6 1394.2,541.7 1393.5,541.7 1392.8,541.2 1392.1,542.4 1391.4,542.7 1390.7,542.2 1390.0,542.4 1389.3,543.0 1388.6,542.7 1388.0,542.3 1387.3,542.3 1386.6,542.8 1385.9,542.2 1385.2,543.2 1384.5,542.9 1383.8,543.3 1383.1,543.5 1382.4,543.3 1381.7,543.2 1381.0,543.7 1380.3,543.9 1379.6,543.7 1379.0,543.5 1378.3,544.6 1377.6,544.4 1376.9,544.3 1376.2,543.4 1375.5,544.2 1374.8,544.2 1374.1,544.7 1373.4,543.9 1372.7,544.6 1372.0,544.4 1371.3,543.9 1370.6,544.2 1369.9,544.3 1369.2,544.6 1368.5,544.4 1367.8,544.4 1367.1,544.6 1366.4,544.7 1365.7,544.8 1365.0,544.6 1364.3,544.7 1363.6,544.6 1362.9,545.6 1362.2,544.1 1361.5,545.5 1360.8,544.5 1360.1,545.4 1359.4,545.0 1358.7,544.8 1358.0,544.6 1357.3,544.9 1356.6,544.5 1355.9,544.8 1355.2,545.2 1354.5,545.9 1353.8,545.1 1353.1,544.9 1352.4,544.5 1351.7,545.6 1351.0,544.4 1350.3,545.1 1349.6,545.0 1348.9,545.5 1348.2,545.0 1347.5,544.4 1346.8,544.9 1346.1,545.5 1345.4,545.2 1344.7,545.0 1344.0,545.8 1343.3,545.3 1342.6,545.4 1341.9,545.6 1341.2,545.0 1340.5,545.3 1339.8,545.7 1339.1,546.1 1338.4,546.1 1337.7,546.0 1337.0,546.2 1336.3,546.4 1335.7,546.0 1335.0,545.7 1334.3,546.6 1333.6,546.6 1332.9,547.1 1332.2,546.8 1331.5,546.2 1330.8,546.6 1330.1,547.4 1329.4,547.3 1328.7,547.0 1328.0,547.3 1327.4,547.3 1326.7,547.8 1326.0,547.2 1325.4,548.0 1324.7,548.4 1324.0,548.9 1323.4,549.6 1322.7,549.1 1322.0,548.9 1321.3,549.3 1320.6,549.4 1319.9,549.3 1319.2,549.1 1318.5,549.7 1317.8,550.4 1317.1,549.5 1316.4,549.9 1315.7,549.4 1315.0,548.8 1314.3,549.3 1313.6,549.7 1312.9,549.7 1312.2,549.2 1311.5,549.8 1310.8,549.5 1310.1,549.4 1309.4,548.9 1308.7,549.3 1308.0,549.0 1307.3,549.1 1306.7,548.9 1306.0,549.1 1305.3,549.5 1304.6,548.8 1303.9,548.3 1303.2,547.9 1302.6,547.8 1301.9,547.4 1301.2,548.3 1300.5,547.4 1299.8,548.2 1299.1,548.5 1298.4,547.0 1297.7,547.1 1297.0,547.1 1296.3,547.3 1295.6,547.9 1294.9,547.6 1294.2,546.7 1293.5,547.8 1292.8,548.0 1292.1,547.7 1291.4,548.0 1290.7,547.3 1290.0,547.8 1289.3,548.4 1288.6,549.3 1288.0,548.4 1287.3,548.0 1286.6,548.4 1285.9,549.4 1285.3,549.7 1284.6,549.8 1284.0,549.7 1283.3,549.1 1282.7,550.5 1282.0,550.4 1281.4,551.0 1280.7,551.2 1280.1,551.2 1279.4,551.5 1278.8,551.5 1278.1,552.1 1277.4,552.8 1276.8,551.8 1276.1,552.6 1275.4,553.1 1274.7,552.2 1274.0,552.9 1273.4,552.9 1272.7,553.9 1272.1,554.1 1271.4,554.1 1270.8,554.5 1270.3,554.7 1269.7,556.0 1269.2,555.3 1268.6,555.9 1268.1,557.1 1267.6,557.8 1267.0,558.0 1266.5,558.5 1265.9,558.0 1265.3,558.8 1264.8,559.3 1264.2,560.3 1263.6,559.6 1263.0,560.4 1262.4,560.5 1261.8,560.9 1261.2,561.6 1260.6,560.9 1260.0,561.3 1259.3,562.4 1258.7,562.7 1258.0,562.9 1257.3,563.0 1256.7,563.2 1256.0,563.4 1255.3,564.0 1254.7,564.5 1254.1,564.0 1253.5,565.2 1252.9,564.9 1252.3,565.4 1251.8,566.1 1251.2,566.4 1250.6,567.1 1250.0,567.1 1249.4,567.0 1248.8,567.6 1248.1,568.4 1247.4,567.6 1246.8,568.8 1246.1,568.6 1245.4,568.5 1244.7,568.9 1244.0,569.0 1243.3,569.5 1242.7,568.9 1242.0,570.2 1241.3,570.2 1240.6,569.5 1240.0,570.1 1239.3,569.9 1238.6,570.6 1237.9,570.6 1237.3,570.6 1236.6,571.2 1236.0,571.6 1235.3,571.6 1234.7,572.1 1234.1,572.1 1233.5,572.9 1232.9,573.9 1232.3,573.5 1231.8,573.5 1231.3,574.9 1230.7,575.1 1230.3,575.0 1229.8,575.5 1229.3,576.3 1228.9,577.3 1228.4,576.8 1228.0,577.2 1227.6,577.7 1227.2,579.2 1226.8,579.3 1226.4,580.0 1225.9,580.9 1225.5,580.7 1225.1,581.8 1224.7,583.1 1224.2,582.9 1223.8,583.0 1223.3,583.6 1222.9,584.9 1222.5,584.9 1222.0,586.1 1221.6,586.7 1221.1,586.1 1220.7,587.2 1220.3,587.8 1219.9,588.2 1219.4,588.8 1219.0,589.4 1218.6,589.4 1218.2,590.8 1217.7,591.3 1217.3,592.1 1216.9,592.2 1216.5,592.8 1216.1,593.1 1215.7,593.9 1215.3,594.8 1214.8,595.3 1214.4,595.6 1214.0,596.2 1213.6,597.4 1213.2,598.0 1212.8,597.2 1212.4,598.9 1212.0,598.9 1211.6,600.5 1211.2,601.3 1210.8,600.4 1210.4,601.2 1210.0,601.9 1209.6,602.2 1209.2,603.7 1208.8,603.6 1208.4,604.7 1208.0,604.5 1207.6,605.3 1207.2,606.4 1206.8,607.0 1206.4,606.7 1206.0,607.8 1205.6,607.9 1205.2,609.1 1204.8,610.4 1204.3,610.2 1203.8,611.0 1203.2,610.7 1202.6,611.1 1201.9,612.0 1201.2,612.0 1200.5,611.4 1199.8,612.2 1199.1,612.4 1198.5,611.6 1197.8,613.0 1197.2,612.4 1196.6,612.3 1196.0,613.0 1195.5,613.5 1194.9,614.6 1194.4,614.3 1193.9,615.7 1193.3,615.0 1192.8,616.2 1192.2,616.5 1191.6,616.5 1190.9,616.5 1190.3,617.6 1189.6,617.2 1189.0,617.5 1188.3,616.9 1187.6,617.6 1187.0,617.7 1186.3,617.7 1185.7,618.8 1185.1,619.6 1184.5,619.4 1184.0,620.3 1183.4,620.1 1182.8,620.6 1182.3,621.5 1181.7,621.8 1181.2,622.3 1180.6,623.5 1180.1,622.9 1179.5,623.4" fill="none" stroke="none" marker-start="url(#mD)" marker-mid="url(#mD)" marker-end="url(#mD)"/></g>
<path d="M1176.2 623.4l3.3 -3.3l3.3 3.3l-3.3 3.3z" fill="#fff" stroke="#f00" stroke-width="1.2"/>
<g clip-path="url(#cpc)"><path d="M774.0,988.7 773.5,987.7 773.1,988.1 772.7,986.2 772.3,986.3 771.9,986.7 771.5,986.2 771.1,985.1 770.6,985.2 770.2,984.6 769.7,984.0 769.3,984.7 768.8,983.8 768.3,981.9 767.7,981.6 767.2,981.9 766.6,982.1 766.1,981.8 765.5,981.4 764.9,981.9 764.3,981.1 763.7,981.0 763.1,981.0 762.5,981.7 761.9,980.7 761.3,980.0 760.6,981.2 760.0,981.3 759.4,980.9 758.8,980.9 758.2,979.7 757.6,980.6 757.0,980.7 756.4,980.4 755.8,981.3 755.2,982.0 754.6,981.6 754.1,982.7 753.5,982.9 753.0,982.3 752.4,982.6 751.9,983.7 751.4,984.3 750.9,983.8 750.4,984.7 749.9,985.0 749.4,985.4 748.9,985.7 748.4,984.9 747.9,985.2 747.4,986.5 746.9,988.2 746.5,987.9 746.0,987.5 745.6,988.3 745.1,988.5 744.7,989.8 744.3,989.1 743.9,990.6 743.5,990.7 743.1,990.8 742.7,991.2 742.3,993.0 742.0,992.5 741.6,993.6 741.2,992.9 740.9,993.1 740.5,994.3 740.2,995.0 739.8,996.7 739.5,995.7 739.1,996.1 738.8,997.1 738.4,997.6 738.1,997.9 737.7,998.1 736.7,1000.4 736.4,1000.2 736.1,1000.8 735.8,1002.8 735.4,1001.8 735.1,1003.2 734.8,1003.3 734.5,1005.1 734.2,1005.2 733.8,1005.3 733.5,1006.7 733.2,1005.5 732.9,1006.9 732.6,1006.5 732.3,1006.4 732.0,1008.4 731.7,1008.4 731.4,1009.6 731.1,1009.1 730.8,1009.1 730.5,1010.9 730.2,1011.6 729.9,1012.4 729.6,1011.9 729.3,1012.6 729.0,1012.9 728.8,1013.6 728.5,1014.6 728.2,1015.2 727.9,1016.1 727.6,1015.7 727.3,1016.3 727.0,1017.5 726.8,1018.4 726.5,1018.1 726.2,1018.4 725.9,1020.1 725.6,1020.7 725.4,1020.7 725.1,1020.9 724.8,1020.7 724.5,1021.7 724.2,1023.6 724.0,1022.9 723.7,1024.7 723.4,1024.7 723.2,1024.4 722.9,1025.7 722.6,1025.7 722.3,1027.3 722.1,1027.4 721.3,1029.0 721.0,1029.2 720.8,1031.2 720.5,1031.8 720.3,1031.0 720.0,1032.4 719.7,1033.1 719.5,1032.4 719.2,1032.5 719.0,1035.4 718.7,1033.8 718.5,1035.4 718.2,1034.7 717.9,1035.9 717.7,1037.5 717.4,1037.2 717.2,1038.7 716.9,1038.1 716.6,1039.6 716.4,1040.0 716.1,1040.3 715.9,1041.7 715.6,1041.5 715.3,1042.7 715.1,1042.5 714.8,1043.5 714.5,1044.0 714.3,1043.6 714.0,1044.1 713.8,1046.4 713.5,1046.1 713.2,1047.0 713.0,1046.6 712.7,1047.6 712.4,1048.3 712.2,1049.1 711.9,1048.3 711.6,1049.9 711.4,1051.1 711.1,1051.5 710.9,1051.8 710.6,1052.7 710.3,1052.4 710.1,1053.2 709.8,1054.7 709.5,1053.5 709.3,1054.3 709.0,1054.7 708.7,1055.6 708.5,1056.6 708.2,1057.1 707.4,1058.8 707.1,1060.0 706.8,1059.8 706.6,1061.8 706.3,1060.8 706.0,1062.0 705.7,1062.3 705.5,1063.3 705.2,1064.3 704.9,1063.3 704.6,1063.7 704.4,1066.1 704.1,1065.8 703.8,1066.7 703.5,1067.2 703.2,1066.9 703.0,1066.9 702.7,1067.6 702.4,1069.2 702.1,1069.2 701.8,1070.1 701.6,1071.8 701.3,1070.6 701.0,1071.1 700.7,1072.5 700.4,1073.0 700.2,1072.6 699.9,1074.0 699.6,1075.7 699.3,1075.9 699.1,1075.6 698.8,1075.8 698.5,1077.1 698.2,1077.2 698.0,1078.3 697.7,1078.6 697.4,1079.7 697.1,1078.5 696.9,1079.9 696.6,1080.7 696.3,1082.1 696.0,1080.9 695.8,1082.2 695.5,1082.8 695.2,1083.1 695.0,1083.9 694.7,1084.3 694.4,1085.1 694.1,1086.2 693.9,1085.7 693.6,1086.8 692.8,1088.8 692.5,1088.5 692.2,1090.0 692.0,1091.1 691.7,1090.6 691.4,1092.3 691.2,1091.5 690.9,1091.5 690.6,1092.9 690.3,1094.3 690.1,1094.0 689.8,1094.5 689.5,1093.8 689.2,1096.1 689.0,1096.6 688.7,1096.3 688.4,1097.8 688.1,1099.1 687.9,1098.2 687.6,1097.8 687.3,1100.2 687.1,1099.3 686.8,1100.7 686.5,1101.4 686.2,1100.5 686.0,1102.2 685.7,1102.8 685.4,1103.7 685.1,1103.7 684.9,1105.1 684.6,1104.9 684.3,1105.5 684.0,1107.1 683.8,1106.9 683.5,1107.9 683.2,1107.2 683.0,1108.5 682.7,1109.0 682.4,1109.9 682.2,1110.3 681.9,1110.9 681.6,1110.6 681.4,1111.7 681.1,1112.2 680.8,1113.2 680.6,1112.8 680.3,1113.8 680.0,1115.1 679.8,1116.0 679.5,1115.5 679.2,1116.0 678.4,1117.5 678.2,1117.5 677.9,1119.4 677.6,1118.8 677.4,1119.4 677.1,1120.1 676.8,1121.4 676.6,1122.6 676.3,1122.8 676.0,1123.1 675.8,1123.1 675.5,1123.8 675.2,1124.6 674.9,1124.3 674.7,1125.3 674.4,1126.6 674.1,1127.6 673.8,1127.0 673.6,1128.1 673.3,1129.5 673.0,1129.4 672.7,1129.6 672.4,1130.1 672.2,1131.4 671.9,1131.0 671.6,1132.3 671.3,1132.3 671.0,1132.5 670.7,1134.7 670.4,1134.7 670.1,1134.6 669.8,1134.7 669.5,1134.9 669.2,1135.0 668.9,1137.0 668.6,1137.4 668.3,1138.0 668.0,1138.4 667.7,1138.1 667.4,1139.8 667.0,1139.7 666.7,1140.6 666.4,1140.4 666.0,1140.8 665.7,1141.4 665.4,1142.4 665.0,1143.6 664.7,1143.4 664.4,1144.5 664.0,1145.3 663.7,1145.1 662.6,1146.6 662.2,1148.2 661.9,1146.7 661.5,1149.3 661.1,1148.2 660.8,1149.6 660.4,1150.6 660.0,1150.4 659.6,1150.0 659.3,1151.0 658.9,1151.3 658.5,1151.4 658.1,1151.9 657.7,1153.4 657.3,1152.9 657.0,1155.3 656.6,1154.5 656.2,1155.8 655.8,1155.0 655.4,1156.7 655.0,1155.9 654.6,1157.0 654.2,1157.8 653.8,1156.8 653.4,1158.1 653.0,1158.1 652.5,1159.5 652.1,1158.6 651.7,1160.5 651.3,1161.0 650.9,1161.1 650.5,1162.4 650.1,1161.7 649.7,1162.1 649.3,1162.6 648.9,1163.7 648.5,1163.8 648.0,1164.0 647.6,1164.8 647.2,1166.4 646.8,1165.5 646.4,1165.7 646.0,1166.4 645.5,1167.3 645.1,1168.7 644.7,1169.1 644.2,1168.9 643.8,1169.5 643.4,1168.9 643.0,1169.4 642.5,1170.2 642.1,1171.3 641.6,1171.1 641.2,1171.0 640.8,1172.9 640.3,1172.6 639.9,1173.4 639.4,1173.7 639.0,1173.4 638.5,1173.8 638.1,1174.1 637.6,1174.2 637.2,1175.6 636.7,1176.3 636.2,1176.2 635.8,1176.6 635.3,1176.9 634.9,1177.0 634.4,1177.7 633.9,1177.6 633.5,1177.8 633.0,1178.8 632.5,1180.2 632.0,1180.1 631.6,1180.4 631.1,1180.5 630.6,1180.8 630.1,1180.3 629.7,1182.8 629.2,1181.5 628.7,1183.0 628.2,1182.9 627.7,1182.4 627.2,1183.5 626.7,1184.1 626.2,1185.2 625.7,1185.0 625.2,1185.0 624.7,1184.6 624.2,1186.7 623.7,1185.2 623.2,1186.9 622.7,1187.4 622.2,1186.2 621.7,1188.6 621.2,1188.8 620.7,1189.2 620.1,1188.4 619.6,1189.4 619.1,1189.9 618.6,1190.2 618.1,1190.3 617.5,1190.7 617.0,1191.3 616.5,1191.7 616.0,1191.4 615.5,1191.6 614.9,1192.1 614.4,1192.6 613.9,1192.3 613.4,1193.2 612.8,1194.4 612.3,1193.8 611.8,1194.7 611.2,1194.3 610.7,1194.3 610.2,1194.8 609.7,1195.7 609.1,1195.8 608.6,1195.9 608.1,1196.6 607.5,1196.4 607.0,1196.6 606.5,1198.5 605.9,1196.9 605.4,1197.8 604.8,1198.6 604.3,1197.7 603.8,1198.5 603.2,1199.0 602.7,1200.1 602.1,1199.6 601.6,1199.5 601.0,1200.7 600.5,1200.1 599.9,1201.6 599.4,1202.2 598.8,1200.8 598.3,1201.5 597.7,1202.3 597.2,1203.5 596.6,1202.3 596.0,1202.5 595.5,1203.7 594.9,1204.0 594.4,1202.5 593.8,1203.4 593.2,1203.8 592.7,1204.0 592.1,1204.8 591.5,1204.6 591.0,1205.1 590.4,1205.9 589.8,1205.5 589.3,1206.3 588.7,1204.9 588.1,1205.8 587.5,1206.7 587.0,1207.3 586.4,1206.8 585.8,1206.4 585.2,1206.9 584.6,1207.8 584.1,1207.5 583.5,1207.5 582.9,1208.7 582.3,1209.2 581.7,1208.6 581.1,1209.6 580.6,1210.0 580.0,1208.9 579.4,1209.7 578.8,1210.4 578.2,1209.3 577.6,1208.9 577.0,1210.7 576.4,1210.1 575.8,1210.9 575.2,1210.0 574.6,1210.6 574.0,1212.4 573.4,1210.7 572.8,1211.0 572.2,1211.9 571.6,1211.5 571.0,1212.4 570.4,1212.4 569.8,1212.2 569.2,1211.8 568.6,1212.0 568.0,1213.2 567.4,1212.5 566.8,1212.6 566.2,1213.6 565.6,1213.5 564.9,1212.8 564.3,1213.9 563.7,1213.4 563.1,1214.2 562.5,1213.9 561.9,1213.9 561.3,1212.7 560.7,1213.7 560.1,1214.4 559.4,1213.7 558.8,1213.4 558.2,1213.3 557.6,1215.5 557.0,1214.5 556.4,1214.3 555.8,1215.1 555.2,1214.1 554.6,1215.4 553.9,1216.1 553.3,1216.0 552.7,1215.2 552.1,1215.4 551.5,1215.3 550.9,1215.1 550.3,1215.7 549.6,1216.1 549.0,1216.6 548.4,1215.4 547.8,1215.9 547.2,1215.8 546.6,1216.2 545.9,1216.5 545.3,1216.3 544.7,1215.9 544.1,1215.2 543.5,1216.6 542.9,1216.5 542.2,1216.5 541.6,1216.1 541.0,1216.2 540.4,1217.1 539.8,1217.7 539.2,1215.9 538.5,1217.3 537.9,1216.5 537.3,1216.4 536.7,1216.0 536.1,1216.7 535.4,1216.7 534.8,1217.2 534.2,1217.3 533.6,1217.2 533.0,1217.1 532.4,1216.3 531.7,1216.7 531.1,1217.4 530.5,1218.0 529.9,1216.3 529.3,1216.9 528.6,1217.7 528.0,1217.4 527.4,1217.1 526.8,1217.5 526.2,1217.1 525.5,1217.3 524.9,1217.8 524.3,1217.4 523.7,1216.7 523.1,1217.6 522.5,1218.4 521.8,1217.7 521.2,1217.7 520.6,1218.3 520.0,1218.1 519.4,1217.1 518.8,1219.2 518.2,1218.0 517.5,1217.9 516.9,1218.3 516.3,1217.8 515.7,1218.4 515.1,1218.9 514.5,1218.8 513.9,1218.4 513.3,1218.3 512.6,1220.0 512.0,1218.7 511.4,1219.3 510.8,1219.3 510.2,1219.7 509.6,1219.2 509.0,1220.2 508.4,1219.6 507.7,1219.6 507.1,1220.1 506.5,1219.9 505.9,1220.9 505.3,1219.8 504.7,1220.2 504.0,1219.8 503.4,1221.0 502.8,1221.4 502.2,1220.7 501.6,1220.5 501.0,1221.7 500.3,1220.7 499.7,1221.5 499.1,1221.7 498.5,1221.8 497.9,1221.6 497.3,1222.4 496.6,1221.2 496.0,1221.7 495.4,1221.5 494.8,1221.0 494.2,1221.3 493.6,1222.2 493.0,1221.6 492.3,1222.0 491.7,1221.4 491.1,1223.1 490.5,1221.2 489.9,1222.3 489.3,1221.9 488.6,1222.0 488.0,1222.5 487.4,1221.8 486.8,1221.5 486.2,1222.6 485.6,1222.3 485.0,1222.4 484.3,1221.9 483.7,1222.5 483.1,1223.4 482.5,1222.5 481.9,1223.8 481.3,1222.3 480.7,1223.6 480.0,1223.5 479.4,1222.8 478.8,1223.7 478.2,1224.4 477.6,1222.6 477.0,1223.2 476.3,1224.4 475.7,1222.6 475.1,1224.4 474.5,1223.7 473.9,1223.5 473.3,1223.0 472.6,1224.0 472.0,1224.3 471.4,1224.5 470.8,1224.5 470.2,1223.9 469.6,1224.4 468.9,1224.0 468.3,1225.5 467.7,1224.8 467.1,1224.0 466.5,1225.1 465.9,1224.4 465.3,1225.2 464.6,1226.1 464.0,1225.3 463.4,1225.0 462.8,1225.7 462.2,1224.9 461.6,1225.7 461.0,1225.5 460.3,1225.8 459.7,1225.9 459.1,1226.0 458.5,1224.7 457.9,1226.2 457.3,1226.5 456.7,1226.1 456.0,1227.3 455.4,1225.9 454.8,1226.3 454.2,1226.9 453.6,1227.8 453.0,1227.6 452.4,1226.8 451.7,1227.4 451.1,1226.1 450.5,1226.9 449.9,1226.8 449.3,1227.8 448.7,1226.7 448.1,1227.0 447.4,1227.8 446.8,1227.0 446.2,1227.4 445.6,1227.4 445.0,1226.6 444.4,1228.4 443.8,1228.2 443.2,1228.5 442.5,1228.8 441.9,1228.2 441.3,1227.9 440.7,1227.8 440.1,1227.7 439.5,1228.3 438.9,1228.8 438.2,1228.6 437.6,1228.4 437.0,1230.2 436.4,1228.7 435.8,1229.8 435.2,1228.6 434.6,1229.4 433.9,1229.5 433.3,1230.1 432.7,1229.5 432.1,1229.9 431.5,1230.4 430.9,1230.2 430.3,1229.9 429.7,1230.1 429.0,1229.0 428.4,1229.8 427.8,1229.9 427.2,1230.6 426.6,1230.9 426.0,1231.3 425.4,1230.1 424.8,1231.5 424.1,1230.5 423.5,1231.4 422.9,1231.3 422.3,1230.8 421.7,1231.6 421.1,1231.9 420.5,1231.2 419.9,1232.7 419.3,1232.1 418.7,1231.7 418.0,1232.4 417.4,1232.4 416.8,1233.1 416.2,1231.4 415.6,1232.5 415.0,1233.7 414.4,1232.9 413.8,1232.3 413.2,1232.9 412.6,1233.8 412.0,1233.2 411.4,1233.9 410.8,1234.0 410.2,1234.2 409.6,1234.3 409.0,1235.0 408.3,1234.7 407.7,1233.6 407.1,1234.1 406.5,1233.3 405.9,1234.6 405.3,1235.5 404.7,1235.6 404.1,1235.1 403.5,1234.9 402.9,1235.5 402.3,1234.6 401.7,1235.4 401.1,1234.8 400.5,1235.4 399.9,1236.3 399.2,1235.5 398.6,1236.0 398.0,1236.9 397.4,1236.7 396.8,1236.2 396.2,1236.9 395.6,1237.2 395.0,1237.1 394.4,1237.3 393.8,1237.9 393.2,1238.1 392.6,1238.2 392.0,1237.7 391.3,1237.7 390.7,1238.1 390.1,1237.6 389.5,1238.1 388.9,1238.1 388.3,1237.0 387.7,1238.5 387.1,1238.0 386.5,1238.6 385.9,1237.5 385.2,1238.3 384.6,1239.6 384.0,1239.6 383.4,1239.2 382.8,1239.5 382.2,1238.8 381.6,1238.8 381.0,1240.0 380.4,1239.5 379.7,1239.7 379.1,1238.8 378.5,1239.4 377.9,1240.3 377.3,1240.8 376.7,1239.7 376.1,1240.4 375.4,1240.5 374.8,1241.3 374.2,1241.6 373.6,1240.4 373.0,1240.3 372.4,1241.0 371.7,1239.8 371.1,1241.1 370.5,1239.9 369.9,1240.9 369.3,1241.3 368.7,1240.6 368.0,1241.8 367.4,1241.5 366.8,1241.7 366.2,1240.8 365.6,1240.7 365.0,1242.6 364.3,1241.9 363.7,1241.3 363.1,1241.5 362.5,1241.1 361.9,1241.2 361.3,1242.0 360.6,1241.7 360.0,1241.8 359.4,1242.8 358.8,1241.6 358.2,1243.2 357.5,1241.2 356.9,1241.4 356.3,1242.6 355.7,1241.9 355.1,1242.3 354.5,1242.7 353.8,1241.9 353.2,1242.0 352.6,1242.0 352.0,1242.3 351.4,1243.4 350.7,1242.6 350.1,1241.9 349.5,1243.0 348.9,1242.7 348.3,1243.4 347.6,1241.3 347.0,1243.4 346.4,1242.9 345.8,1242.4 345.2,1242.3 344.5,1243.6 343.9,1242.2 343.3,1242.0 342.7,1242.9 342.1,1242.6 341.4,1243.5 340.8,1241.5 340.2,1242.8 339.6,1242.5 339.0,1242.1 338.4,1242.7 337.7,1242.2 337.1,1242.1 336.5,1242.9 335.9,1240.7 335.3,1241.7 334.7,1241.1 334.1,1241.4 333.4,1241.4 332.8,1242.2 332.2,1241.9 331.6,1242.2 331.0,1241.3 330.4,1241.3 329.8,1241.2 329.1,1241.5 328.5,1240.2 327.9,1240.8 327.3,1240.7" fill="none" stroke="none" marker-start="url(#mC)" marker-mid="url(#mC)" marker-end="url(#mC)"/></g>
<circle cx="327.3" cy="1240.7" r="2.9" fill="#fff" stroke="#f00" stroke-width="1.15"/>
<g clip-path="url(#cpc)"><path d="M774.0,1653.0 773.6,1653.8 773.2,1653.5 772.7,1654.1 772.3,1654.7 771.8,1654.6 771.4,1655.4 770.9,1655.4 770.4,1656.6 770.0,1657.7 769.5,1658.0 769.0,1658.1 768.5,1657.6 768.0,1657.9 767.5,1659.7 767.0,1658.5 766.5,1658.8 765.9,1659.7 765.4,1659.5 764.8,1660.2 764.3,1660.1 763.7,1660.7 763.1,1660.6 762.5,1661.5 761.9,1662.2 761.3,1661.3 760.7,1660.9 760.1,1660.7 759.5,1661.7 758.8,1661.8 758.2,1661.1 757.6,1661.0 757.0,1661.0 756.4,1661.3 755.8,1661.2 755.2,1661.8 754.6,1660.0 754.0,1661.1 753.5,1660.0 753.0,1659.7 752.4,1660.4 751.9,1658.7 751.4,1658.7 750.9,1658.4 750.4,1658.1 750.0,1658.0 749.5,1656.7 749.0,1657.1 748.6,1656.1 748.2,1655.7 747.7,1654.8 747.3,1654.3 746.9,1654.8 746.5,1653.5 746.1,1653.5 745.7,1652.4 744.2,1650.6 743.9,1651.2 743.5,1649.8 743.1,1649.2 742.8,1648.6 742.4,1648.9 742.1,1648.5 741.7,1647.1 741.4,1646.9 741.1,1646.6 740.7,1646.4 740.4,1645.3 740.1,1644.6 739.7,1644.6 739.4,1643.4 739.1,1643.9 738.8,1641.9 738.4,1641.7 738.1,1641.7 737.8,1641.2 737.5,1641.1 736.2,1637.9 735.9,1638.3 735.6,1636.9 735.3,1637.5 735.0,1636.3 734.6,1636.8 734.3,1635.1 734.0,1634.3 733.7,1634.4 733.4,1633.3 733.1,1632.9 732.8,1633.2 732.5,1631.5 732.1,1632.0 731.8,1630.8 731.5,1631.1 731.2,1629.5 730.9,1629.8 730.6,1629.2 730.3,1628.3 729.9,1627.7 728.7,1625.6 728.4,1626.1 728.1,1625.6 727.8,1624.2 727.5,1622.5 727.2,1622.7 726.9,1621.8 726.6,1621.7 726.2,1622.0 725.9,1620.3 725.6,1620.6 725.3,1619.2 725.0,1619.2 724.7,1618.4 724.4,1619.1 724.1,1616.4 723.8,1616.6 723.5,1615.8 723.2,1615.9 722.9,1615.0 722.6,1614.1 721.4,1612.7 721.1,1611.8 720.7,1612.6 720.4,1610.8 720.1,1610.2 719.8,1610.0 719.5,1609.2 719.2,1609.7 718.9,1608.0 718.6,1608.7 718.3,1607.6 718.0,1606.6 717.7,1606.0 717.4,1605.9 717.1,1605.1 716.8,1604.5 716.4,1604.3 716.1,1603.9 715.8,1603.1 715.5,1602.2 715.2,1601.8 714.0,1599.7 713.7,1598.7 713.4,1598.7 713.1,1597.5 712.8,1597.0 712.5,1597.2 712.3,1596.4 712.0,1595.4 711.7,1595.3 711.4,1594.2 711.1,1594.5 710.8,1593.4 710.5,1592.9 710.3,1592.3 710.0,1591.4 709.7,1590.7 709.4,1590.4 709.2,1589.8 708.9,1589.4 708.6,1589.4 708.4,1588.2 707.3,1587.4 707.0,1586.2 706.8,1585.7 706.5,1584.8 706.2,1583.9 706.0,1582.5 705.7,1582.1 705.4,1582.6 705.2,1581.8 704.9,1581.2 704.7,1581.2 704.4,1579.7 704.2,1579.8 703.9,1579.2 703.6,1577.9 703.4,1578.2 703.1,1577.5 702.9,1577.2 702.6,1575.9 702.4,1575.8 702.1,1575.3 701.1,1572.7 700.9,1571.9 700.6,1571.1 700.3,1570.8 700.1,1570.1 699.8,1570.3 699.5,1570.5 699.3,1569.2 699.0,1568.0 698.7,1567.6 698.4,1567.3 698.2,1567.3 697.9,1565.6 697.6,1565.6 697.3,1565.1 697.1,1564.6 696.8,1564.4 696.5,1563.1 696.2,1563.2 696.0,1562.1 695.7,1561.4 694.6,1559.0 694.3,1558.9 694.0,1558.5 693.7,1556.9 693.5,1557.0 693.2,1556.9 692.9,1555.5 692.6,1555.8 692.4,1555.9 692.1,1554.9 691.8,1553.7 691.5,1553.2 691.3,1553.9 691.0,1551.9 690.7,1551.6 690.4,1551.0 690.2,1550.4 689.9,1550.7 689.6,1550.0 689.3,1548.0 689.0,1549.0 687.9,1546.4 687.6,1546.3 687.4,1546.2 687.1,1544.1 686.8,1544.2 686.5,1543.6 686.2,1542.8 685.9,1541.3 685.6,1542.1 685.3,1541.3 685.1,1541.1 684.8,1539.6 684.5,1539.5 684.2,1539.1 683.9,1538.4 683.6,1537.8 683.3,1538.2 683.0,1536.7 682.7,1536.3 682.4,1535.5 682.1,1535.4 680.9,1533.0 680.6,1532.9 680.3,1530.9 680.0,1531.7 679.7,1530.4 679.4,1530.4 679.1,1530.2 678.8,1529.2 678.5,1529.0 678.2,1528.6 677.9,1528.3 677.6,1527.1 677.3,1526.8 677.0,1526.2 676.7,1525.7 676.4,1525.6 676.1,1524.5 675.8,1523.7 675.5,1524.1 675.2,1522.7 674.9,1522.0 673.6,1521.2 673.3,1520.1 673.0,1518.0 672.7,1519.1 672.4,1517.2 672.0,1517.1 671.7,1516.6 671.4,1516.0 671.1,1516.0 670.8,1515.8 670.4,1514.7 670.1,1514.4 669.8,1513.8 669.5,1512.3 669.2,1512.9 668.8,1512.2 668.5,1511.0 668.2,1511.5 667.9,1509.6 667.5,1510.5 667.2,1509.0 666.9,1508.9 666.6,1508.7 666.2,1508.0 665.9,1507.3 665.6,1506.7 665.3,1505.7 664.9,1505.2 664.6,1505.9 664.3,1504.1 664.0,1504.8 663.6,1503.5 663.3,1503.6 663.0,1502.9 662.7,1501.8 662.4,1502.1 662.0,1500.4 661.7,1500.6 661.4,1500.7 661.1,1499.7 660.8,1499.0 660.4,1497.3 660.1,1497.6 659.8,1497.7 659.4,1497.6 659.1,1496.4 658.8,1495.1 658.5,1495.8 658.1,1495.2 657.8,1494.9 657.4,1493.9 657.1,1492.9 656.8,1492.0 656.4,1491.4 656.1,1492.7 655.8,1491.3 655.4,1490.8 655.1,1489.9 654.8,1489.3 654.4,1488.9 654.1,1488.3 653.8,1487.3 653.4,1487.0 653.0,1486.6 652.7,1486.9 652.3,1486.3 651.9,1485.1 651.6,1485.0 651.2,1485.1 650.8,1484.1 650.4,1483.2 650.0,1483.9 649.6,1482.5 649.2,1481.6 648.8,1481.4 648.3,1480.8 647.9,1480.6 647.5,1479.3 647.1,1479.9 646.7,1479.2 646.3,1479.1 645.8,1479.5 645.4,1477.6 645.0,1477.4 644.6,1477.9 644.2,1476.7 643.7,1476.0 643.3,1475.5 642.9,1475.3 642.4,1474.7 642.0,1474.3 641.6,1473.8 641.2,1473.2 640.7,1472.7 640.3,1471.9 639.9,1471.8 639.4,1471.6 639.0,1470.8 638.5,1471.6 638.1,1470.7 637.7,1470.4 637.2,1469.0 636.8,1468.9 636.3,1469.2 635.9,1467.4 635.4,1467.8 635.0,1467.3 634.5,1467.7 634.1,1465.7 633.6,1466.4 633.2,1464.5 632.7,1465.3 632.3,1464.2 631.8,1463.4 631.3,1463.6 630.9,1463.2 630.4,1463.2 629.9,1462.4 629.5,1461.9 629.0,1463.1 628.5,1461.9 628.0,1460.6 627.5,1460.9 627.0,1460.9 626.6,1460.3 626.1,1459.6 625.6,1459.6 625.1,1459.0 624.6,1459.0 624.1,1458.3 623.6,1457.6 623.1,1457.6 622.6,1457.5 622.1,1456.1 621.6,1456.0 621.1,1455.7 620.5,1456.3 620.0,1454.8 619.5,1455.2 619.0,1454.5 618.5,1455.0 618.0,1454.0 617.5,1453.8 616.9,1452.7 616.4,1452.7 615.9,1452.4 615.4,1451.1 614.9,1452.0 614.3,1450.9 613.8,1451.3 613.3,1450.7 612.8,1451.1 612.3,1451.0 611.7,1450.4 611.2,1449.0 610.7,1449.4 610.2,1448.0 609.6,1449.2 609.1,1449.4 608.6,1448.3 608.0,1447.8 607.5,1446.4 607.0,1447.8 606.4,1446.0 605.9,1447.1 605.4,1446.0 604.8,1445.9 604.3,1445.3 603.7,1445.3 603.2,1444.7 602.7,1444.1 602.1,1444.5 601.6,1443.9 601.0,1443.0 600.5,1442.9 599.9,1443.7 599.4,1442.7 598.8,1442.5 598.3,1442.8 597.7,1441.8 597.2,1441.4 596.6,1441.0 596.1,1441.5 595.5,1440.4 595.0,1440.5 594.4,1439.8 593.8,1439.2 593.3,1440.7 592.7,1438.9 592.2,1439.8 591.6,1438.8 591.0,1438.6 590.5,1438.9 589.9,1438.3 589.3,1437.3 588.8,1437.4 588.2,1438.2 587.6,1437.6 587.1,1437.2 586.5,1436.9 585.9,1435.6 585.4,1437.0 584.8,1434.9 584.2,1435.4 583.6,1435.0 583.1,1435.2 582.5,1434.1 581.9,1434.1 581.3,1435.3 580.8,1434.5 580.2,1434.1 579.6,1433.6 579.0,1434.5 578.4,1433.3 577.9,1433.0 577.3,1432.7 576.7,1433.0 576.1,1432.4 575.5,1432.1 574.9,1431.3 574.3,1431.5 573.8,1432.5 573.2,1431.9 572.6,1432.0 572.0,1431.6 571.4,1430.5 570.8,1431.3 570.2,1430.5 569.6,1430.5 569.0,1430.0 568.5,1430.5 567.9,1429.7 567.3,1429.9 566.7,1429.2 566.1,1429.0 565.5,1429.3 564.9,1429.0 564.3,1428.9 563.7,1428.4 563.1,1427.8 562.5,1428.5 561.9,1427.7 561.3,1427.8 560.7,1427.5 560.1,1427.8 559.4,1427.2 558.8,1427.7 558.2,1428.2 557.6,1426.9 557.0,1427.4 556.4,1427.4 555.8,1426.2 555.2,1426.9 554.6,1426.9 553.9,1427.3 553.3,1427.3 552.7,1426.5 552.1,1426.8 551.5,1426.9 550.9,1427.1 550.2,1426.5 549.6,1427.5 549.0,1427.0 548.4,1426.8 547.8,1425.9 547.2,1426.3 546.5,1425.4 545.9,1425.1 545.3,1426.6 544.7,1426.4 544.1,1425.9 543.4,1425.9 542.8,1425.2 542.2,1425.8 541.6,1426.6 541.0,1426.0 540.4,1426.3 539.7,1424.7 539.1,1426.1 538.5,1425.8 537.9,1425.7 537.3,1425.1 536.6,1425.2 536.0,1426.1 535.4,1424.6 534.8,1425.9 534.2,1425.3 533.6,1425.2 532.9,1424.8 532.3,1424.8 531.7,1425.4 531.1,1425.1 530.5,1425.1 529.8,1425.2 529.2,1425.0 528.6,1425.2 528.0,1424.9 527.4,1425.0 526.8,1424.7 526.1,1425.4 525.5,1424.7 524.9,1424.9 524.3,1424.6 523.7,1424.4 523.0,1425.1 522.4,1423.2 521.8,1424.3 521.2,1424.5 520.6,1425.1 520.0,1424.0 519.3,1424.1 518.7,1424.1 518.1,1424.4 517.5,1423.8 516.9,1423.8 516.3,1422.9 515.6,1423.9 515.0,1423.5 514.4,1423.2 513.8,1424.3 513.2,1423.2 512.6,1424.2 511.9,1422.9 511.3,1424.3 510.7,1423.5 510.1,1422.2 509.5,1422.8 508.9,1423.7 508.2,1423.2 507.6,1423.5 507.0,1423.0 506.4,1422.2 505.8,1422.8 505.2,1422.4 504.5,1422.6 503.9,1422.8 503.3,1422.5 502.7,1422.0 502.1,1422.2 501.5,1421.4 500.8,1422.0 500.2,1421.9 499.6,1421.6 499.0,1421.9 498.4,1422.2 497.8,1421.9 497.1,1422.2 496.5,1421.8 495.9,1421.3 495.3,1421.5 494.7,1421.7 494.1,1421.6 493.4,1421.4 492.8,1421.0 492.2,1420.7 491.6,1420.8 491.0,1421.5 490.4,1421.3 489.8,1420.5 489.1,1421.0 488.5,1421.2 487.9,1421.2 487.3,1420.1 486.7,1420.4 486.1,1421.0 485.4,1421.0 484.8,1419.8 484.2,1419.0 483.6,1419.6 483.0,1419.6 482.4,1419.9 481.8,1420.1 481.1,1419.9 480.5,1419.1 479.9,1419.8 479.3,1419.6 478.7,1419.4 478.1,1420.1 477.4,1419.4 476.8,1419.5 476.2,1419.6 475.6,1418.4 475.0,1418.4 474.4,1419.4 473.8,1418.8 473.1,1419.0 472.5,1419.4 471.9,1419.0 471.3,1419.0 470.7,1417.9 470.1,1418.1 469.4,1418.0 468.8,1418.1 468.2,1418.2 467.6,1417.2 467.0,1417.7 466.4,1417.4 465.7,1417.6 465.1,1417.5 464.5,1418.0 463.9,1418.0 463.3,1418.2 462.7,1417.4 462.1,1417.1 461.4,1417.4 460.8,1417.2 460.2,1416.8 459.6,1416.6 459.0,1416.4 458.4,1416.9 457.8,1416.4 457.1,1416.1 456.5,1417.0 455.9,1417.0 455.3,1416.3 454.7,1416.9 454.1,1415.8 453.5,1416.9 452.8,1416.9 452.2,1415.4 451.6,1415.7 451.0,1416.5 450.4,1415.9 449.8,1415.7 449.2,1415.7 448.5,1415.1 447.9,1415.5 447.3,1415.9 446.7,1415.3 446.1,1415.1 445.5,1414.5 444.9,1415.3 444.3,1415.6 443.6,1415.9 443.0,1414.3 442.4,1414.8 441.8,1414.7 441.2,1414.2 440.6,1414.4 440.0,1414.3 439.4,1415.3 438.7,1413.7 438.1,1415.1 437.5,1413.9 436.9,1413.3 436.3,1413.8 435.7,1414.1 435.1,1414.1 434.4,1413.7 433.8,1412.9 433.2,1413.9 432.6,1413.7 432.0,1412.9 431.4,1413.3 430.7,1414.2 430.1,1412.5 429.5,1413.9 428.9,1413.1 428.3,1413.1 427.7,1413.2 427.0,1413.0 426.4,1412.7 425.8,1412.9 425.2,1412.8 424.6,1412.0 424.0,1412.0 423.3,1412.7 422.7,1411.8 422.1,1411.0 421.5,1411.9 420.9,1412.2 420.3,1412.0 419.7,1411.8 419.0,1410.9 418.4,1411.7 417.8,1411.5 417.2,1411.4 416.6,1412.1 416.0,1411.3 415.4,1410.9 414.8,1411.8 414.1,1410.7 413.5,1410.8 412.9,1411.2 412.3,1411.8 411.7,1411.2 411.1,1410.5 410.5,1410.2 409.9,1409.5 409.2,1409.1 408.6,1409.9 408.0,1410.0 407.4,1409.7 406.8,1410.8 406.2,1409.3 405.6,1410.0 405.0,1409.7 404.3,1409.5 403.7,1409.9 403.1,1409.2 402.5,1409.1 401.9,1409.9 401.3,1409.2 400.7,1407.7 400.1,1409.2 399.5,1408.6 398.9,1408.0 398.3,1409.4 397.6,1408.5 397.0,1408.4 396.4,1407.5 395.8,1407.9 395.2,1407.0 394.6,1407.5 394.0,1407.5 393.4,1408.4 392.8,1407.2 392.1,1407.5 391.5,1407.0 390.9,1407.1 390.3,1406.6 389.7,1407.2 389.1,1406.4 388.5,1406.1 387.9,1407.4 387.2,1406.6 386.6,1405.2 386.0,1405.9 385.4,1406.3 384.8,1405.9 384.2,1406.2 383.6,1405.7 383.0,1405.8 382.3,1405.5 381.7,1405.4 381.1,1406.6 380.5,1405.0 379.9,1405.4 379.3,1404.5 378.7,1404.1 378.0,1405.3 377.4,1406.1 376.8,1404.9 376.2,1404.8 375.6,1404.5 375.0,1404.5 374.4,1404.0 373.7,1403.8 373.1,1403.9 372.5,1404.7 371.9,1403.9 371.3,1404.1 370.7,1404.6 370.1,1404.1 369.4,1403.8 368.8,1403.3 368.2,1403.3 367.6,1404.2 367.0,1403.7 366.4,1402.5 365.7,1402.4 365.1,1402.9 364.5,1403.4 363.9,1404.3 363.3,1403.3 362.7,1403.1 362.1,1403.5 361.4,1402.7 360.8,1402.7 360.2,1402.6 359.6,1402.7 359.0,1402.7 358.4,1402.7 357.8,1401.6 357.2,1402.4 356.5,1401.3 355.9,1402.2 355.3,1401.8 354.7,1402.8 354.1,1400.8 353.5,1402.1 352.8,1401.6 352.2,1401.5 351.6,1401.4 351.0,1401.3 350.4,1400.9 349.7,1401.0 349.1,1401.6 348.5,1402.5 347.9,1402.2 347.3,1402.8 346.7,1401.3 346.0,1402.0 345.4,1401.7 344.8,1401.9 344.2,1402.1 343.6,1402.1 342.9,1402.1 342.3,1402.1 341.7,1402.5 341.1,1402.4 340.5,1402.6 339.9,1402.4 339.3,1402.9 338.6,1401.9 338.0,1403.3 337.4,1403.0 336.8,1403.8 336.2,1402.9 335.6,1403.3 335.0,1403.5 334.4,1403.6 333.8,1403.4 333.2,1404.9 332.6,1403.6 332.0,1404.6 331.4,1404.8 330.8,1405.1 330.3,1404.9 329.7,1404.2 329.1,1406.2 328.5,1405.1 327.9,1405.8 327.3,1405.8" fill="none" stroke="none" marker-start="url(#mS)" marker-mid="url(#mS)" marker-end="url(#mS)"/></g>
<rect x="324.75" y="1403.25" width="5.1" height="5.1" fill="#fff" stroke="#000" stroke-width="1.2"/>
<g clip-path="url(#cpd)"><path d="M1625.3,1274.7 1624.9,1273.5 1624.2,1274.4 1623.6,1273.5 1622.9,1272.9 1622.3,1273.8 1621.6,1272.3 1621.0,1272.6 1620.3,1272.8 1619.7,1272.5 1619.0,1271.0 1618.3,1271.9 1617.7,1271.0 1617.0,1270.4 1616.3,1270.6 1615.7,1270.3 1615.0,1270.4 1614.3,1269.8 1613.6,1270.5 1613.0,1269.8 1612.3,1270.1 1611.6,1270.2 1610.9,1269.6 1610.2,1269.6 1609.6,1268.5 1608.9,1268.9 1608.2,1269.3 1607.5,1269.0 1606.8,1268.9 1606.1,1268.7 1605.4,1268.6 1604.7,1267.2 1604.0,1267.5 1603.3,1267.2 1602.6,1267.9 1601.9,1269.1 1601.2,1267.1 1600.6,1268.6 1599.9,1267.9 1599.2,1267.0 1598.5,1267.7 1597.8,1266.9 1597.1,1267.4 1596.4,1267.8 1595.7,1267.6 1595.0,1267.3 1594.3,1267.0 1593.6,1266.9 1592.9,1267.8 1592.2,1267.6 1591.5,1267.4 1590.8,1267.4 1590.1,1267.4 1589.4,1267.5 1588.7,1267.6 1588.0,1266.4 1587.3,1266.6 1586.6,1266.7 1585.9,1267.3 1585.2,1266.4 1584.5,1267.5 1583.8,1267.5 1583.1,1268.1 1582.4,1266.9 1581.7,1267.1 1581.0,1267.3 1580.3,1267.5 1579.6,1267.2 1578.9,1266.2 1578.2,1266.1 1577.5,1266.5 1576.8,1266.9 1576.1,1267.6 1575.4,1266.4 1574.7,1266.5 1574.0,1266.8 1573.3,1266.1 1572.6,1266.0 1571.9,1267.0 1571.2,1268.4 1570.5,1266.9 1569.8,1267.3 1569.1,1266.1 1568.4,1267.0 1567.7,1267.0 1567.0,1267.3 1566.3,1266.4 1565.6,1266.9 1564.9,1266.4 1564.2,1268.9 1563.5,1268.1 1562.8,1266.6 1562.1,1267.9 1561.4,1268.5 1560.7,1267.1 1560.0,1267.1 1559.3,1268.6 1558.6,1266.9 1557.9,1268.4 1557.3,1269.3 1556.6,1268.4 1555.9,1268.3 1555.2,1269.3 1554.5,1268.0 1553.8,1268.5 1553.1,1267.9 1552.4,1267.7 1551.7,1268.3 1551.0,1268.8 1550.3,1269.9 1549.6,1269.0 1548.9,1270.4 1548.2,1268.1 1547.5,1269.2 1546.8,1269.3 1546.1,1269.5 1545.4,1269.5 1544.7,1269.0 1544.0,1270.2 1543.3,1269.5 1542.6,1268.8 1542.0,1269.5 1541.3,1271.0 1540.6,1270.1 1539.9,1269.4 1539.2,1270.5 1538.5,1270.2 1537.8,1269.3 1537.1,1270.7 1536.4,1271.8 1535.7,1270.5 1535.0,1270.1 1534.3,1270.4 1533.6,1271.1 1532.9,1271.8 1532.2,1270.7 1531.6,1270.8 1530.9,1271.4 1530.2,1271.8 1529.5,1272.5 1528.8,1271.7 1528.1,1271.1 1527.4,1272.1 1526.7,1271.8 1526.0,1272.1 1525.3,1272.6 1524.6,1273.0 1523.9,1272.7 1523.3,1272.5 1522.6,1272.6 1521.9,1273.6 1521.2,1273.3 1520.5,1272.3 1519.8,1272.9 1519.1,1273.4 1518.4,1272.5 1517.7,1274.5 1517.0,1273.2 1516.3,1273.4 1515.6,1273.0 1515.0,1274.1 1514.3,1273.7 1513.6,1274.1 1512.9,1274.5 1512.2,1275.8 1511.5,1275.0 1510.8,1274.5 1510.1,1274.8 1509.4,1275.6 1508.7,1275.2 1508.0,1274.3 1507.4,1275.3 1506.7,1275.5 1506.0,1276.1 1505.3,1275.6 1504.6,1275.5 1503.9,1276.4 1503.2,1275.6 1502.5,1276.1 1501.8,1275.7 1501.1,1276.6 1500.4,1276.1 1499.7,1276.9 1499.1,1277.3 1498.4,1278.0 1497.7,1276.8 1497.0,1277.5 1496.3,1277.0 1495.6,1277.3 1494.9,1276.8 1494.2,1277.4 1493.5,1277.1 1492.8,1277.6 1492.1,1277.0 1491.4,1279.1 1490.8,1278.7 1490.1,1278.3 1489.4,1277.5 1488.7,1277.5 1488.0,1279.0 1487.3,1279.0 1486.6,1279.0 1485.9,1279.3 1485.2,1279.2 1484.5,1278.2 1483.8,1278.9 1483.1,1279.7 1482.5,1278.3 1481.8,1279.1 1481.1,1279.4 1480.4,1280.4 1479.7,1278.9 1479.0,1279.5 1478.3,1280.4 1477.6,1279.0 1476.9,1280.1 1476.2,1280.7 1475.5,1280.5 1474.8,1281.0 1474.1,1280.7 1473.4,1280.1 1472.8,1280.9 1472.1,1280.4 1471.4,1281.2 1470.7,1280.4 1470.0,1280.8 1469.3,1280.9 1468.6,1280.3 1467.9,1281.5 1467.2,1281.6 1466.5,1282.2 1465.8,1281.6 1465.1,1281.8 1464.4,1281.7 1463.7,1280.7 1463.0,1281.3 1462.3,1281.9 1461.6,1282.1 1460.9,1281.4 1460.2,1281.7 1459.5,1282.9 1458.8,1282.3 1458.1,1281.6 1457.5,1282.4 1456.8,1281.6 1456.1,1282.5 1455.4,1282.2 1454.7,1283.4 1454.0,1281.9 1453.3,1282.4 1452.6,1282.4 1451.9,1283.4 1451.2,1283.0 1450.5,1283.9 1449.8,1282.3 1449.1,1283.2 1448.4,1281.7 1447.7,1283.4 1447.0,1282.7 1446.3,1281.7 1445.6,1282.6 1444.9,1282.8 1444.2,1283.6 1443.5,1283.7 1442.8,1282.1 1442.1,1283.3 1441.4,1282.7 1440.7,1283.1 1440.0,1283.3 1439.3,1283.4 1438.6,1283.0 1437.9,1283.6 1437.2,1283.8 1436.5,1283.3 1435.8,1282.9 1435.1,1283.0 1434.4,1284.1 1433.7,1282.7 1433.0,1283.0 1432.3,1283.3 1431.6,1282.5 1430.9,1283.3 1430.2,1282.2 1429.5,1284.7 1428.8,1282.8 1428.1,1284.0 1427.4,1283.5 1426.7,1283.8 1426.0,1283.9 1425.3,1284.1 1424.6,1283.6 1423.9,1282.3 1423.2,1284.1 1422.5,1282.4 1421.8,1284.5 1421.1,1284.2 1420.4,1283.4 1419.7,1284.0 1419.0,1284.1 1418.3,1283.3 1417.6,1283.6 1416.9,1284.1 1416.2,1283.3 1415.5,1284.2 1414.8,1283.2 1414.1,1283.6 1413.4,1283.0 1412.7,1283.9 1412.0,1283.7 1411.3,1283.6 1410.6,1283.2 1409.9,1284.3 1409.2,1284.0 1408.5,1283.4 1407.8,1284.6 1407.1,1284.1 1406.4,1284.0 1405.7,1284.8 1405.0,1282.7 1404.3,1284.6 1403.6,1285.0 1402.9,1282.8 1402.2,1283.9 1401.5,1283.2 1400.8,1282.4 1400.1,1283.7 1399.4,1283.4 1398.7,1283.7 1398.0,1283.6 1397.3,1283.6 1396.6,1284.0 1395.9,1283.5 1395.2,1284.0 1394.5,1282.6 1393.8,1283.9 1393.1,1283.1 1392.4,1283.7 1391.7,1283.3 1391.0,1283.6 1390.3,1283.5 1389.6,1283.1 1388.9,1283.5 1388.2,1283.2 1387.5,1283.9 1386.8,1283.3 1386.1,1284.7 1385.4,1284.0 1384.7,1282.8 1384.0,1283.0 1383.3,1283.1 1382.6,1282.4 1381.9,1282.5 1381.2,1284.2 1380.5,1284.1 1379.8,1282.0 1379.1,1283.4 1378.4,1282.4 1377.7,1282.3 1377.0,1283.4 1376.3,1282.2 1375.6,1283.9 1374.9,1282.6 1374.2,1282.5 1373.5,1282.9 1372.8,1283.5 1372.1,1282.8 1371.4,1282.2 1370.7,1282.3 1370.0,1282.0 1369.3,1282.7 1368.6,1283.8 1367.9,1282.3 1367.2,1283.5 1366.5,1281.1 1365.8,1283.0 1365.1,1281.5 1364.4,1282.7 1363.7,1281.6 1363.0,1283.3 1362.3,1282.4 1361.6,1282.1 1360.9,1281.4 1360.2,1282.1 1359.5,1281.0 1358.8,1281.0 1358.1,1281.9 1357.4,1283.3 1356.7,1282.5 1356.0,1282.7 1355.3,1282.6 1354.6,1282.3 1353.9,1282.5 1353.2,1281.8 1352.5,1282.0 1351.8,1282.3 1351.1,1282.1 1350.4,1281.0 1349.7,1282.5 1349.0,1280.5 1348.3,1283.0 1347.6,1281.8 1346.9,1281.7 1346.2,1282.5 1345.5,1281.3 1344.8,1280.6 1344.1,1282.1 1343.4,1281.2 1342.7,1280.1 1342.0,1282.5 1341.3,1281.6 1340.6,1281.2 1339.9,1282.4 1339.2,1281.2 1338.5,1280.7 1337.8,1280.8 1337.1,1281.0 1336.4,1280.6 1335.7,1280.0 1335.0,1281.3 1334.4,1280.6 1333.7,1281.2 1333.0,1281.7 1332.3,1280.6 1331.6,1280.0 1330.9,1280.3 1330.2,1280.6 1329.5,1280.0 1328.8,1280.2 1328.1,1279.1 1327.4,1279.8 1326.7,1280.7 1326.0,1280.4 1325.3,1279.8 1324.6,1279.1 1323.9,1280.5 1323.2,1279.7 1322.5,1280.2 1321.8,1278.8 1321.1,1280.6 1320.4,1278.8 1319.7,1280.1 1319.0,1278.4 1318.3,1280.6 1317.6,1278.8 1316.9,1279.3 1316.2,1278.7 1315.6,1279.4 1314.9,1278.4 1314.2,1279.1 1313.5,1278.9 1312.8,1278.8 1312.1,1278.3 1311.4,1278.7 1310.7,1278.8 1310.0,1278.0 1309.3,1278.0 1308.6,1278.3 1307.9,1277.5 1307.2,1278.1 1306.5,1278.0 1305.8,1278.8 1305.1,1278.3 1304.4,1278.8 1303.7,1278.1 1303.0,1278.1 1302.3,1277.9 1301.6,1276.6 1300.9,1276.3 1300.2,1277.7 1299.5,1277.4 1298.8,1276.2 1298.1,1277.5 1297.4,1277.2 1296.7,1276.6 1296.1,1276.1 1295.4,1276.2 1294.7,1276.6 1294.0,1276.6 1293.3,1275.9 1292.6,1276.9 1291.9,1276.3 1291.2,1275.5 1290.5,1276.5 1289.8,1276.5 1289.1,1276.3 1288.4,1276.4 1287.7,1277.2 1287.0,1275.5 1286.3,1275.6 1285.6,1275.9 1284.9,1275.5 1284.2,1276.9 1283.5,1275.9 1282.8,1276.7 1282.1,1276.1 1281.4,1275.9 1280.7,1275.1 1280.0,1276.3 1279.3,1275.5 1278.7,1275.2 1278.0,1276.0 1277.3,1274.0 1276.6,1274.6 1275.9,1275.1 1275.2,1275.7 1274.5,1274.1 1273.8,1275.4 1273.1,1274.6 1272.4,1274.8 1271.7,1274.7 1271.0,1274.3 1270.3,1273.6 1269.6,1273.4 1269.0,1274.3 1268.3,1273.6 1267.6,1272.5 1266.9,1273.6 1266.2,1272.9 1265.5,1272.6 1264.8,1272.6 1264.1,1273.1 1263.4,1271.9 1262.8,1271.7 1262.1,1273.4 1261.4,1273.0 1260.7,1271.9 1260.0,1272.5 1259.3,1270.7 1258.6,1271.2 1257.9,1271.3 1257.3,1271.0 1256.6,1271.7 1255.9,1271.9 1255.2,1270.1 1254.5,1270.8 1253.8,1270.5 1253.1,1270.5 1252.4,1270.0 1251.8,1270.0 1251.1,1269.5 1250.4,1268.9 1249.7,1269.9 1249.0,1269.9 1248.3,1269.5 1247.6,1270.8 1247.0,1269.2 1246.3,1268.6 1245.6,1268.6 1244.9,1268.2 1244.2,1270.1 1243.6,1269.9 1242.9,1269.3 1242.2,1268.4 1241.5,1268.5 1240.8,1268.2 1240.2,1268.5 1239.5,1267.6 1238.8,1267.2 1238.1,1267.1 1237.5,1267.0 1236.8,1267.1 1236.1,1266.9 1235.5,1266.5 1234.8,1265.2 1234.1,1266.0 1233.5,1266.6 1232.8,1264.6 1232.1,1266.5 1231.5,1264.5 1230.8,1266.2 1230.1,1264.5 1229.5,1265.3 1228.8,1264.4 1228.1,1263.9 1227.5,1264.2 1226.8,1263.9 1226.2,1262.7 1225.5,1262.1 1224.9,1262.7 1224.2,1263.1 1223.6,1262.3 1222.9,1260.7 1222.3,1262.6 1221.6,1261.1 1221.0,1260.7 1220.3,1260.1 1219.7,1260.1 1219.0,1261.3 1218.4,1261.0 1217.7,1260.4 1217.1,1260.3 1216.4,1258.6 1215.8,1259.7 1215.2,1259.1 1214.5,1259.7 1213.9,1258.4 1213.2,1258.1 1212.6,1257.2 1211.9,1257.1 1211.3,1256.8 1210.7,1255.6 1210.0,1256.9 1209.4,1255.3 1208.8,1256.1 1208.2,1254.6 1207.6,1255.2 1206.9,1255.2 1206.3,1254.6 1205.7,1253.6 1205.1,1254.4 1204.4,1252.8 1203.8,1254.0 1203.2,1253.5 1202.6,1252.2 1202.0,1252.6 1201.4,1253.1 1200.7,1252.1 1200.1,1250.7 1199.5,1250.3 1198.9,1250.7 1198.3,1250.7 1197.7,1248.5 1197.1,1248.8 1196.5,1250.0 1195.9,1249.7 1195.4,1249.0 1194.8,1248.6 1194.2,1246.6 1193.6,1247.0 1193.0,1246.4 1192.5,1246.6 1191.9,1246.2 1191.3,1246.7 1190.8,1245.5 1190.2,1245.7 1189.7,1243.6 1189.1,1243.4 1188.6,1243.1 1188.0,1242.9 1187.5,1242.8 1186.9,1242.3 1186.4,1241.1 1185.8,1241.6 1185.3,1239.9 1184.8,1240.5 1184.2,1239.1 1183.7,1239.3 1183.2,1238.8 1182.6,1237.9 1182.1,1237.6 1181.6,1236.8 1181.1,1238.3 1180.5,1237.3 1180.0,1236.5 1179.5,1235.7" fill="none" stroke="none" marker-start="url(#mS)" marker-mid="url(#mS)" marker-end="url(#mS)"/></g>
<rect x="1176.95" y="1233.15" width="5.1" height="5.1" fill="#fff" stroke="#000" stroke-width="1.2"/>
<g clip-path="url(#cpd)"><path d="M1625.3,1367.7 1624.9,1367.8 1624.2,1368.1 1623.6,1367.9 1622.9,1368.2 1622.3,1369.2 1621.6,1368.7 1621.0,1369.6 1620.3,1369.4 1619.7,1369.8 1619.0,1370.0 1618.4,1370.8 1617.7,1370.5 1617.0,1370.4 1616.4,1371.0 1615.7,1371.2 1615.0,1371.6 1614.4,1371.7 1613.7,1371.9 1613.0,1371.9 1612.3,1372.0 1611.7,1372.8 1611.0,1372.5 1610.3,1371.9 1609.6,1373.0 1608.9,1373.0 1608.2,1372.8 1607.5,1372.5 1606.9,1373.4 1606.2,1373.4 1605.5,1373.7 1604.8,1373.6 1604.1,1373.4 1603.4,1373.7 1602.7,1373.6 1602.0,1374.0 1601.3,1374.1 1600.6,1373.9 1600.0,1374.1 1599.3,1374.1 1598.6,1374.2 1597.9,1374.5 1597.2,1374.9 1596.5,1375.1 1595.8,1374.9 1595.1,1374.3 1594.4,1374.5 1593.7,1374.9 1593.0,1375.2 1592.3,1374.5 1591.6,1375.6 1590.9,1375.8 1590.2,1375.4 1589.5,1376.2 1588.8,1375.0 1588.1,1375.3 1587.4,1376.1 1586.7,1375.0 1586.0,1376.1 1585.3,1375.6 1584.6,1375.2 1583.9,1375.5 1583.2,1375.5 1582.5,1375.3 1581.8,1375.5 1581.1,1374.8 1580.4,1375.1 1579.7,1375.5 1579.0,1375.1 1578.3,1375.4 1577.6,1376.0 1576.9,1375.1 1576.2,1375.5 1575.5,1374.6 1574.8,1375.0 1574.1,1374.6 1573.4,1375.8 1572.7,1374.9 1572.0,1374.1 1571.3,1374.8 1570.6,1374.4 1569.9,1374.6 1569.2,1374.1 1568.5,1374.1 1567.8,1375.2 1567.1,1375.3 1566.4,1373.8 1565.7,1374.8 1565.0,1374.2 1564.4,1373.8 1563.7,1374.3 1563.0,1373.7 1562.3,1373.6 1561.6,1373.9 1560.9,1374.6 1560.2,1374.5 1559.5,1373.2 1558.8,1373.9 1558.1,1373.9 1557.4,1373.9 1556.7,1372.8 1556.0,1373.0 1555.3,1373.0 1554.6,1373.0 1553.9,1372.8 1553.2,1373.2 1552.5,1373.3 1551.8,1372.4 1551.1,1372.6 1550.5,1372.6 1549.8,1371.5 1549.1,1372.7 1548.4,1372.0 1547.7,1372.1 1547.0,1372.5 1546.3,1372.2 1545.6,1371.2 1544.9,1371.6 1544.2,1371.6 1543.5,1371.3 1542.8,1371.9 1542.1,1371.8 1541.4,1371.3 1540.7,1371.4 1540.0,1371.0 1539.4,1371.3 1538.7,1370.4 1538.0,1370.4 1537.3,1370.2 1536.6,1370.2 1535.9,1370.6 1535.2,1370.8 1534.5,1370.4 1533.8,1370.8 1533.1,1370.3 1532.4,1370.1 1531.7,1369.2 1531.0,1369.9 1530.3,1369.4 1529.6,1369.7 1529.0,1369.9 1528.3,1369.5 1527.6,1369.5 1526.9,1369.6 1526.2,1369.5 1525.5,1369.3 1524.8,1369.0 1524.1,1369.4 1523.4,1369.0 1522.7,1368.2 1522.0,1368.5 1521.3,1368.3 1520.6,1368.4 1520.0,1368.0 1519.3,1368.2 1518.6,1367.8 1517.9,1368.4 1517.2,1367.5 1516.5,1367.7 1515.8,1367.5 1515.1,1367.7 1514.4,1367.4 1513.7,1367.1 1513.0,1366.6 1512.3,1367.4 1511.6,1366.4 1511.0,1366.1 1510.3,1367.3 1509.6,1367.2 1508.9,1366.2 1508.2,1366.5 1507.5,1366.3 1506.8,1365.7 1506.1,1366.6 1505.4,1365.8 1504.7,1365.4 1504.0,1366.3 1503.3,1365.0 1502.6,1365.8 1501.9,1365.3 1501.3,1365.8 1500.6,1365.0 1499.9,1365.1 1499.2,1365.1 1498.5,1365.7 1497.8,1365.1 1497.1,1364.8 1496.4,1364.6 1495.7,1365.0 1495.0,1364.6 1494.3,1364.7 1493.6,1364.7 1492.9,1364.1 1492.2,1364.0 1491.5,1363.6 1490.9,1364.1 1490.2,1364.5 1489.5,1363.9 1488.8,1363.8 1488.1,1363.4 1487.4,1363.2 1486.7,1364.0 1486.0,1363.0 1485.3,1363.6 1484.6,1362.8 1483.9,1363.1 1483.2,1362.7 1482.5,1363.4 1481.8,1362.3 1481.1,1362.0 1480.4,1361.9 1479.7,1362.1 1479.0,1362.8 1478.3,1361.8 1477.6,1363.2 1477.0,1362.4 1476.3,1362.3 1475.6,1362.1 1474.9,1363.0 1474.2,1362.5 1473.5,1362.3 1472.8,1362.3 1472.1,1361.2 1471.4,1361.8 1470.7,1361.7 1470.0,1361.7 1469.3,1361.6 1468.6,1361.3 1467.9,1362.1 1467.2,1361.7 1466.5,1361.7 1465.8,1360.8 1465.1,1361.1 1464.4,1361.3 1463.7,1361.6 1463.0,1361.1 1462.3,1361.1 1461.6,1361.0 1460.9,1360.7 1460.2,1360.8 1459.5,1360.2 1458.8,1361.1 1458.1,1360.5 1457.4,1360.5 1456.7,1360.9 1456.0,1361.0 1455.3,1360.3 1454.6,1360.6 1453.9,1360.6 1453.2,1359.6 1452.5,1360.5 1451.8,1360.1 1451.1,1360.0 1450.4,1360.1 1449.7,1360.5 1449.0,1359.8 1448.3,1360.2 1447.6,1360.5 1446.9,1360.6 1446.2,1360.0 1445.5,1359.8 1444.8,1360.5 1444.1,1359.8 1443.4,1360.6 1442.7,1360.3 1442.0,1360.3 1441.3,1360.2 1440.6,1359.7 1439.9,1360.3 1439.2,1359.8 1438.5,1359.6 1437.8,1359.8 1437.1,1360.6 1436.4,1359.6 1435.7,1359.6 1435.0,1359.7 1434.3,1360.0 1433.6,1359.8 1432.9,1359.3 1432.2,1359.8 1431.5,1359.7 1430.8,1359.2 1430.1,1359.9 1429.4,1360.7 1428.7,1360.5 1428.0,1359.8 1427.3,1360.2 1426.6,1359.4 1425.9,1359.5 1425.2,1359.5 1424.5,1359.5 1423.8,1359.8 1423.1,1360.1 1422.4,1360.1 1421.7,1359.7 1421.0,1360.1 1420.3,1359.8 1419.6,1360.1 1418.9,1359.7 1418.2,1360.0 1417.5,1359.7 1416.8,1360.3 1416.1,1359.5 1415.4,1359.5 1414.7,1359.7 1414.0,1360.1 1413.3,1360.5 1412.6,1359.4 1411.9,1359.8 1411.2,1360.0 1410.5,1359.5 1409.8,1359.8 1409.1,1359.8 1408.4,1359.4 1407.7,1360.5 1407.0,1359.9 1406.3,1359.2 1405.6,1360.3 1404.9,1359.6 1404.2,1359.8 1403.5,1359.5 1402.8,1359.9 1402.1,1359.0 1401.4,1360.0 1400.7,1360.6 1400.0,1359.3 1399.3,1359.9 1398.6,1360.4 1397.9,1359.0 1397.2,1360.1 1396.5,1358.9 1395.8,1360.5 1395.1,1360.5 1394.4,1360.3 1393.7,1360.1 1393.0,1359.3 1392.3,1359.0 1391.6,1359.9 1390.9,1360.0 1390.2,1359.8 1389.5,1359.6 1388.8,1360.0 1388.1,1359.1 1387.4,1360.0 1386.7,1360.6 1386.0,1359.5 1385.3,1360.0 1384.6,1360.0 1383.9,1359.4 1383.2,1360.1 1382.5,1359.6 1381.8,1360.3 1381.1,1360.3 1380.4,1360.7 1379.7,1360.0 1379.0,1359.9 1378.3,1359.5 1377.6,1360.0 1376.9,1359.8 1376.2,1359.8 1375.5,1360.1 1374.8,1360.8 1374.1,1360.2 1373.4,1359.8 1372.7,1360.0 1372.0,1360.2 1371.3,1360.2 1370.6,1359.3 1369.9,1360.0 1369.2,1360.0 1368.5,1360.0 1367.8,1360.2 1367.1,1360.8 1366.4,1360.2 1365.7,1360.6 1365.0,1360.7 1364.3,1360.5 1363.6,1360.5 1363.0,1359.6 1362.3,1359.9 1361.6,1360.1 1360.9,1360.6 1360.2,1360.4 1359.5,1360.5 1358.8,1359.7 1358.1,1359.7 1357.4,1360.0 1356.7,1360.9 1356.0,1360.8 1355.3,1360.5 1354.6,1360.1 1353.9,1361.3 1353.2,1361.6 1352.5,1360.7 1351.8,1360.9 1351.1,1361.1 1350.4,1360.8 1349.7,1361.8 1349.0,1361.1 1348.3,1361.3 1347.6,1361.6 1346.9,1360.7 1346.2,1360.7 1345.5,1360.9 1344.8,1361.5 1344.1,1361.1 1343.4,1361.8 1342.7,1361.4 1342.0,1361.1 1341.3,1360.3 1340.6,1361.5 1339.9,1360.8 1339.2,1361.0 1338.5,1360.9 1337.8,1361.2 1337.1,1361.6 1336.4,1361.6 1335.7,1361.5 1335.0,1361.1 1334.3,1361.0 1333.6,1361.7 1332.9,1361.8 1332.2,1362.4 1331.5,1362.2 1330.8,1361.6 1330.1,1360.9 1329.4,1361.9 1328.7,1362.3 1328.0,1361.6 1327.3,1361.2 1326.6,1361.8 1325.9,1362.4 1325.2,1362.2 1324.5,1362.2 1323.8,1361.8 1323.1,1361.5 1322.4,1361.7 1321.7,1363.0 1321.0,1362.3 1320.3,1361.8 1319.6,1362.9 1318.9,1362.2 1318.2,1363.1 1317.5,1361.5 1316.8,1362.5 1316.1,1362.3 1315.4,1362.5 1314.7,1362.3 1314.0,1362.4 1313.3,1362.8 1312.6,1362.5 1311.9,1363.6 1311.2,1362.8 1310.5,1363.6 1309.8,1362.9 1309.1,1362.8 1308.4,1363.3 1307.7,1362.3 1307.0,1364.0 1306.3,1363.2 1305.6,1363.4 1304.9,1363.0 1304.2,1363.7 1303.5,1363.5 1302.8,1363.2 1302.1,1363.7 1301.4,1363.8 1300.7,1363.3 1300.0,1363.7 1299.3,1363.9 1298.6,1363.2 1298.0,1363.8 1297.3,1364.1 1296.6,1363.6 1295.9,1364.3 1295.2,1364.4 1294.5,1363.9 1293.8,1364.3 1293.1,1364.4 1292.4,1363.6 1291.7,1364.2 1291.0,1364.9 1290.3,1364.7 1289.6,1364.6 1288.9,1365.3 1288.2,1364.8 1287.5,1364.7 1286.8,1365.0 1286.1,1365.8 1285.4,1365.1 1284.7,1365.3 1284.0,1365.6 1283.3,1365.5 1282.6,1365.3 1281.9,1365.8 1281.2,1365.1 1280.5,1365.7 1279.8,1365.7 1279.1,1365.8 1278.4,1365.2 1277.7,1365.7 1277.0,1366.4 1276.3,1366.2 1275.7,1366.1 1275.0,1365.9 1274.3,1365.5 1273.6,1366.3 1272.9,1366.0 1272.2,1367.2 1271.5,1366.4 1270.8,1366.6 1270.1,1366.1 1269.4,1366.5 1268.7,1366.8 1268.0,1367.2 1267.3,1367.6 1266.6,1367.3 1265.9,1367.6 1265.2,1366.6 1264.5,1368.1 1263.9,1367.6 1263.2,1367.5 1262.5,1367.2 1261.8,1368.3 1261.1,1368.0 1260.4,1368.9 1259.7,1368.1 1259.0,1368.6 1258.3,1367.9 1257.6,1368.5 1256.9,1368.1 1256.2,1368.7 1255.6,1368.6 1254.9,1368.7 1254.2,1369.5 1253.5,1368.9 1252.8,1368.8 1252.1,1370.0 1251.4,1369.5 1250.7,1369.3 1250.0,1369.5 1249.3,1370.0 1248.6,1370.2 1248.0,1369.2 1247.3,1370.5 1246.6,1370.6 1245.9,1371.0 1245.2,1370.5 1244.5,1370.3 1243.8,1370.6 1243.1,1371.0 1242.5,1371.8 1241.8,1371.2 1241.1,1372.2 1240.4,1371.6 1239.7,1372.3 1239.1,1372.1 1238.4,1372.5 1237.7,1371.9 1237.0,1372.5 1236.3,1373.0 1235.7,1373.2 1235.0,1373.0 1234.3,1373.2 1233.6,1373.3 1233.0,1374.0 1232.3,1373.8 1231.6,1373.6 1230.9,1373.6 1230.3,1373.5 1229.6,1374.4 1228.9,1374.4 1228.3,1375.2 1227.6,1375.1 1226.9,1375.1 1226.3,1375.9 1225.6,1375.4 1224.9,1375.8 1224.3,1376.0 1223.6,1376.7 1223.0,1377.6 1222.3,1377.2 1221.6,1377.5 1221.0,1377.3 1220.3,1377.8 1219.7,1377.9 1219.0,1377.6 1218.4,1378.8 1217.7,1378.5 1217.1,1378.4 1216.4,1379.1 1215.8,1380.0 1215.1,1380.0 1214.5,1380.2 1213.8,1380.8 1213.2,1380.8 1212.5,1380.3 1211.9,1380.7 1211.2,1382.2 1210.6,1381.5 1209.9,1382.1 1209.3,1382.0 1208.7,1382.2 1208.1,1382.5 1207.4,1383.3 1206.8,1383.7 1206.2,1383.9 1205.6,1384.3 1204.9,1384.7 1204.3,1384.7 1203.7,1384.9 1203.1,1385.3 1202.5,1385.3 1201.9,1386.4 1201.3,1385.9 1200.6,1387.0 1200.0,1387.4 1199.4,1387.0 1198.8,1387.5 1198.2,1387.2 1197.6,1387.8 1197.0,1389.0 1196.4,1388.7 1195.8,1389.8 1195.2,1389.9 1194.6,1390.3 1194.0,1390.5 1193.4,1391.3 1192.8,1391.5 1192.2,1391.5 1191.6,1391.5 1191.0,1392.6 1190.4,1392.8 1189.8,1393.2 1189.3,1394.1 1188.7,1394.1 1188.1,1394.0 1187.6,1394.5 1187.0,1395.3 1186.4,1395.9 1185.9,1396.5 1185.3,1396.5 1184.7,1396.9 1184.1,1397.2 1183.6,1397.5 1183.0,1398.2 1182.4,1397.8 1181.8,1398.8 1181.2,1399.5 1180.7,1399.6 1180.1,1399.9 1179.5,1400.4" fill="none" stroke="none" marker-start="url(#mD)" marker-mid="url(#mD)" marker-end="url(#mD)"/></g>
<path d="M1176.2 1400.4l3.3 -3.3l3.3 3.3l-3.3 3.3z" fill="#fff" stroke="#f00" stroke-width="1.2"/>
<g>
<circle cx="223.55" cy="251.45" r="20.4" fill="#0000ff"/>
<circle cx="218.30" cy="246.50" r="10" fill="#6c6cff"/>
<circle cx="218.30" cy="246.50" r="8.3" fill="#8080ff"/>
<circle cx="218.30" cy="246.50" r="6.7" fill="#a8a8ff"/>
<circle cx="218.30" cy="246.50" r="5.1" fill="#babaff"/>
<circle cx="218.30" cy="246.50" r="3.3" fill="#fafaff"/>
</g>
<g>
<circle cx="1075.20" cy="198.70" r="20.4" fill="#0000ff"/>
<circle cx="1069.95" cy="193.75" r="10" fill="#6c6cff"/>
<circle cx="1069.95" cy="193.75" r="8.3" fill="#8080ff"/>
<circle cx="1069.95" cy="193.75" r="6.7" fill="#a8a8ff"/>
<circle cx="1069.95" cy="193.75" r="5.1" fill="#babaff"/>
<circle cx="1069.95" cy="193.75" r="3.3" fill="#fafaff"/>
</g>
<g id="legend-a">
<path d="M220.0 120.6H278.0" stroke="#000" stroke-width="1.5"/>
<rect x="245.8" y="118.3" width="5.6" height="4.6" fill="#fff" stroke="#000" stroke-width="1.2"/>
<path d="M220.0 193.6H278.0" stroke="#f00" stroke-width="1.5"/>
<circle cx="248.6" cy="193.6" r="2.9" fill="#fff" stroke="#f00" stroke-width="1.1"/>
<text class="lg lgp" x="292.9" y="128.9">+</text>
<text class="lgi" x="332.4" y="128.9">I</text>
<text class="lgs" x="357.9" y="144.1">DC</text>
<text class="lg" transform="translate(292.2 201.0) scale(1.24 1)">-</text>
<text class="lgi" x="314.6" y="202.3">I</text>
<text class="lgs" x="340.5" y="216.6">DC</text>
</g>
<g id="legend-b">
<path d="M1071.4 122.1H1129.4" stroke="#000" stroke-width="1.5"/>
<rect x="1097.2" y="119.8" width="5.6" height="4.6" fill="#fff" stroke="#000" stroke-width="1.2"/>
<path d="M1071.4 195.1H1129.4" stroke="#f00" stroke-width="1.5"/>
<path d="M1096.4 195.1l3.6 -3.6l3.6 3.6l-3.6 3.6z" fill="#fff" stroke="#f00" stroke-width="1.1"/>
<text class="lg lgp" x="1144.3" y="130.4">+</text>
<text class="lgi" x="1183.8" y="130.4">I</text>
<text class="lgs" x="1209.3" y="145.6">DC</text>
<text class="lg" transform="translate(1143.6 202.5) scale(1.24 1)">-</text>
<text class="lgi" x="1166.0" y="203.8">I</text>
<text class="lgs" x="1191.9" y="218.1">DC</text>
</g>
<g id="legend-c">
<path d="M220.0 1004.5H278.0" stroke="#000" stroke-width="1.5"/>
<rect x="245.8" y="1002.2" width="5.6" height="4.6" fill="#fff" stroke="#000" stroke-width="1.2"/>
<path d="M220.0 1077.5H278.0" stroke="#f00" stroke-width="1.5"/>
<circle cx="248.6" cy="1077.5" r="2.9" fill="#fff" stroke="#f00" stroke-width="1.1"/>
<text class="lg lgp" x="292.9" y="1012.8">+</text>
<text class="lgi" x="332.4" y="1012.8">I</text>
<text class="lgs" x="357.9" y="1028.0">DC</text>
<text class="lg" transform="translate(292.2 1084.9) scale(1.24 1)">-</text>
<text class="lgi" x="314.6" y="1086.2">I</text>
<text class="lgs" x="340.5" y="1100.5">DC</text>
</g>
<g id="legend-d">
<path d="M1070.6 1005.8H1128.6" stroke="#000" stroke-width="1.5"/>
<rect x="1096.4" y="1003.5" width="5.6" height="4.6" fill="#fff" stroke="#000" stroke-width="1.2"/>
<path d="M1070.6 1078.8H1128.6" stroke="#f00" stroke-width="1.5"/>
<path d="M1095.6 1078.8l3.6 -3.6l3.6 3.6l-3.6 3.6z" fill="#fff" stroke="#f00" stroke-width="1.1"/>
<text class="lg lgp" x="1143.5" y="1014.1">+</text>
<text class="lgi" x="1183.0" y="1014.1">I</text>
<text class="lgs" x="1208.5" y="1029.3">DC</text>
<text class="lg" transform="translate(1142.8 1086.2) scale(1.24 1)">-</text>
<text class="lgi" x="1165.2" y="1087.5">I</text>
<text class="lgs" x="1191.1" y="1101.8">DC</text>
</g>
<text class="sm" transform="translate(253.0 772.2) scale(0.958 1)">Sample A</text>
<text class="sm" transform="translate(1085.0 772.8) scale(0.958 1)">Sample A</text>
<text class="sm" transform="translate(262.0 1639.5) scale(0.958 1)">Sample B</text>
<text class="sm" transform="translate(1098.7 1639.5) scale(0.958 1)">Sample B</text>
<g transform="translate(54.4 665.6) rotate(-90)">
<text class="yl" x="0" y="0">H<tspan class="sub" style="font-weight:700" dy="16.4">f</tspan><tspan dy="-16.4" dx="0.0"> (Oe/MA</tspan><tspan class="dot" dx="2.6" dy="-7.3">·</tspan><tspan dx="2.7" dy="7.3">cm</tspan><tspan class="sup" dy="-21" dx="-1.7">-2</tspan></text>
</g>
<g transform="translate(54.4 161.5) rotate(-90)">
<text class="yp" text-anchor="end" transform="scale(1.215 1)" x="2.95" y="-1.2">)</text>
</g>
<g transform="translate(907.5 670.5) rotate(-90)">
<text class="yl" x="0" y="0">H<tspan class="sub" style="font-weight:400" dy="16.4">d</tspan><tspan dy="-16.4" dx="1.7"> (Oe/MA</tspan><tspan class="dot" dx="2.6" dy="-7.3">·</tspan><tspan dx="2.7" dy="7.3">cm</tspan><tspan class="sup" dy="-21" dx="-1.7">-2</tspan></text>
</g>
<g transform="translate(907.5 156.1) rotate(-90)">
<text class="yp" text-anchor="end" transform="scale(1.215 1)" x="2.95" y="-1.2">)</text>
</g>
<g transform="translate(56.2 1549.1) rotate(-90)">
<text class="yl" x="0" y="0">H<tspan class="sub" style="font-weight:700" dy="16.4">f</tspan><tspan dy="-16.4" dx="0.0"> (Oe/MA</tspan><tspan class="dot" dx="2.6" dy="-7.3">·</tspan><tspan dx="2.7" dy="7.3">cm</tspan><tspan class="sup" dy="-21" dx="-1.7">-2</tspan></text>
</g>
<g transform="translate(56.2 1045.0) rotate(-90)">
<text class="yp" text-anchor="end" transform="scale(1.215 1)" x="2.95" y="-1.2">)</text>
</g>
<g transform="translate(907.6 1554.3) rotate(-90)">
<text class="yl" x="0" y="0">H<tspan class="sub" style="font-weight:400" dy="16.4">d</tspan><tspan dy="-16.4" dx="1.7"> (Oe/MA</tspan><tspan class="dot" dx="2.6" dy="-7.3">·</tspan><tspan dx="2.7" dy="7.3">cm</tspan><tspan class="sup" dy="-21" dx="-1.7">-2</tspan></text>
</g>
<g transform="translate(907.6 1039.9) rotate(-90)">
<text class="yp" text-anchor="end" transform="scale(1.215 1)" x="2.95" y="-1.2">)</text>
</g>
<text class="xl" x="331.6" y="1834.0">Theta<tspan dx="-2.2"> (</tspan></text>
<text class="th" transform="translate(547.4 1834.0) scale(.95 1)">θ</text>
<text class="xp" transform="translate(587.7 1834.6) scale(1.18 1)">)</text>
<text class="xl" x="1174.4" y="1835.2">Theta<tspan dx="-2.2"> (</tspan></text>
<text class="th" transform="translate(1390.2 1835.2) scale(.95 1)">θ</text>
<text class="xp" transform="translate(1430.5 1835.8) scale(1.18 1)">)</text>
</svg></body></html>
